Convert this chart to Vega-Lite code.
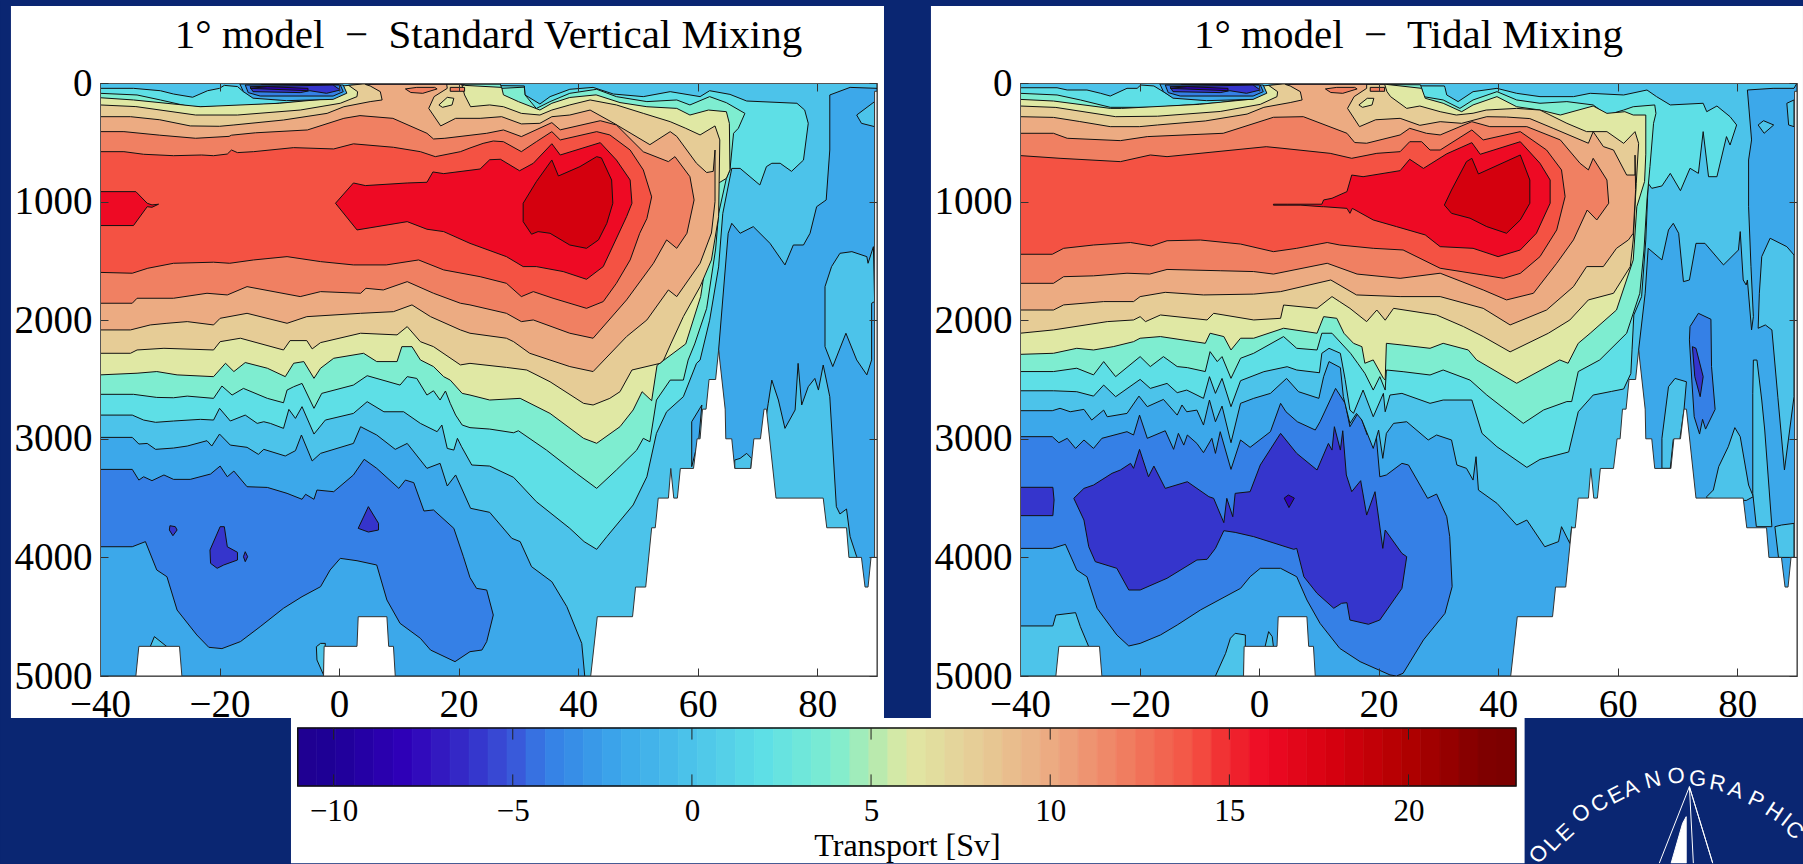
{
"$schema":"https://vega.github.io/schema/vega-lite/v6.json",
"background":"#0a2672","padding":0,
"config":{"view":{"stroke":null},"axis":{"grid":false,"title":null,"labelFont":"Liberation Serif","labelFontSize":39,"labelColor":"#000","tickColor":"#333","domainColor":"#555","tickSize":-8,"labelOverlap":false,"labelFlush":false,"format":"d"}},
"datasets":{
"frame":[{"item":"frame"}],
"ground":[
{"piece":"r","lat":42.1,"depth":5000},{"piece":"r","lat":43.2,"depth":4500},{"piece":"r","lat":49.1,"depth":4500},{"piece":"r","lat":49.6,"depth":4250},{"piece":"r","lat":51.3,"depth":4250},{"piece":"r","lat":52.3,"depth":3750},{"piece":"r","lat":52.9,"depth":3750},{"piece":"r","lat":53.4,"depth":3500},{"piece":"r","lat":55.1,"depth":3500},{"piece":"r","lat":55.5,"depth":3250},{"piece":"r","lat":56,"depth":3500},{"piece":"r","lat":56.6,"depth":3500},{"piece":"r","lat":57.1,"depth":3250},{"piece":"r","lat":59.3,"depth":3250},{"piece":"r","lat":59.9,"depth":3000},{"piece":"r","lat":60.4,"depth":3000},{"piece":"r","lat":60.8,"depth":2750},{"piece":"r","lat":61.4,"depth":2750},{"piece":"r","lat":61.9,"depth":2500},{"piece":"r","lat":63,"depth":2500},{"piece":"r","lat":63.5,"depth":2250},{"piece":"r","lat":64.6,"depth":2750},{"piece":"r","lat":64.7,"depth":3000},{"piece":"r","lat":65.7,"depth":3000},{"piece":"r","lat":66.2,"depth":3250},{"piece":"r","lat":68.9,"depth":3250},{"piece":"r","lat":69.4,"depth":3000},{"piece":"r","lat":70.5,"depth":3000},{"piece":"r","lat":71.1,"depth":2750},{"piece":"r","lat":71.5,"depth":2750},{"piece":"r","lat":73.1,"depth":3500},{"piece":"r","lat":81,"depth":3500},{"piece":"r","lat":81.6,"depth":3750},{"piece":"r","lat":84.9,"depth":3750},{"piece":"r","lat":85.3,"depth":4000},{"piece":"r","lat":87.4,"depth":4000},{"piece":"r","lat":88,"depth":4250},{"piece":"r","lat":88.5,"depth":4250},{"piece":"r","lat":89,"depth":4000},{"piece":"r","lat":90,"depth":4000},{"piece":"r","lat":90,"depth":5000},
{"piece":"s","lat":89.6,"depth":70},{"piece":"s","lat":90,"depth":70},{"piece":"s","lat":90,"depth":4000},{"piece":"s","lat":89.6,"depth":4000},
{"piece":"a","lat":-34,"depth":5000},{"piece":"a","lat":-33.5,"depth":4750},{"piece":"a","lat":-26.7,"depth":4750},{"piece":"a","lat":-26.3,"depth":5000},
{"piece":"b","lat":-2.6,"depth":5000},{"piece":"b","lat":-2.5,"depth":4750},{"piece":"b","lat":3,"depth":4750},{"piece":"b","lat":3.2,"depth":4500},{"piece":"b","lat":8,"depth":4500},{"piece":"b","lat":8.3,"depth":4750},{"piece":"b","lat":9.1,"depth":4750},{"piece":"b","lat":9.4,"depth":5000}
],
"standard":[
{"sv":-2,"lat":-40,"depth":0},{"sv":-2,"lat":90,"depth":0},{"sv":-2,"lat":90,"depth":5000},{"sv":-2,"lat":-40,"depth":5000},
{"sv":-4,"lat":-40,"depth":3258},{"sv":-4,"lat":-34.6,"depth":3258},{"sv":-4,"lat":-33.5,"depth":3348},{"sv":-4,"lat":-32.7,"depth":3320},{"sv":-4,"lat":-31.3,"depth":3353},{"sv":-4,"lat":-29.3,"depth":3305},{"sv":-4,"lat":-27.7,"depth":3342},{"sv":-4,"lat":-24.9,"depth":3342},{"sv":-4,"lat":-21.5,"depth":3297},{"sv":-4,"lat":-19.9,"depth":3230},{"sv":-4,"lat":-18.7,"depth":3320},{"sv":-4,"lat":-17.6,"depth":3272},{"sv":-4,"lat":-15.4,"depth":3404},{"sv":-4,"lat":-12,"depth":3410},{"sv":-4,"lat":-8.7,"depth":3460},{"sv":-4,"lat":-6.2,"depth":3510},{"sv":-4,"lat":-5.6,"depth":3468},{"sv":-4,"lat":-4.2,"depth":3510},{"sv":-4,"lat":-3.7,"depth":3432},{"sv":-4,"lat":-0.9,"depth":3446},{"sv":-4,"lat":2.4,"depth":3305},{"sv":-4,"lat":4.2,"depth":3173},{"sv":-4,"lat":6.3,"depth":3249},{"sv":-4,"lat":10,"depth":3418},{"sv":-4,"lat":11.1,"depth":3348},{"sv":-4,"lat":12.5,"depth":3370},{"sv":-4,"lat":14.2,"depth":3609},{"sv":-4,"lat":15.8,"depth":3600},{"sv":-4,"lat":19.2,"depth":3755},{"sv":-4,"lat":20.8,"depth":3994},{"sv":-4,"lat":21.9,"depth":4170},{"sv":-4,"lat":23,"depth":4261},{"sv":-4,"lat":24.7,"depth":4275},{"sv":-4,"lat":25.8,"depth":4486},{"sv":-4,"lat":24.7,"depth":4710},{"sv":-4,"lat":23.9,"depth":4781},{"sv":-4,"lat":21.9,"depth":4795},{"sv":-4,"lat":19.4,"depth":4879},{"sv":-4,"lat":15.3,"depth":4781},{"sv":-4,"lat":13.6,"depth":4682},{"sv":-4,"lat":10.2,"depth":4556},{"sv":-4,"lat":8,"depth":4359},{"sv":-4,"lat":6.3,"depth":4064},{"sv":-4,"lat":3,"depth":4028},{"sv":-4,"lat":0.2,"depth":4008},{"sv":-4,"lat":-1.5,"depth":4106},{"sv":-4,"lat":-3.1,"depth":4247},{"sv":-4,"lat":-6.2,"depth":4331},{"sv":-4,"lat":-9.3,"depth":4429},{"sv":-4,"lat":-13.2,"depth":4584},{"sv":-4,"lat":-16.5,"depth":4710},{"sv":-4,"lat":-19.6,"depth":4769},{"sv":-4,"lat":-21.8,"depth":4758},{"sv":-4,"lat":-23.8,"depth":4654},{"sv":-4,"lat":-27.1,"depth":4444},{"sv":-4,"lat":-28.8,"depth":4163},{"sv":-4,"lat":-30.5,"depth":4106},{"sv":-4,"lat":-32.4,"depth":3867},{"sv":-4,"lat":-34.6,"depth":3910},{"sv":-4,"lat":-40,"depth":3910},
{"sv":-6,"lat":-19.9,"depth":3741},{"sv":-6,"lat":-19.2,"depth":3741},{"sv":-6,"lat":-18.7,"depth":3910},{"sv":-6,"lat":-17,"depth":3957},{"sv":-6,"lat":-17,"depth":4022},{"sv":-6,"lat":-19.3,"depth":4064},{"sv":-6,"lat":-20.4,"depth":4092},{"sv":-6,"lat":-21.5,"depth":4050},{"sv":-6,"lat":-21.6,"depth":3938},
{"sv":-6.01,"lat":-28.3,"depth":3733},{"sv":-6.01,"lat":-27.4,"depth":3741},{"sv":-6.01,"lat":-27.1,"depth":3769},{"sv":-6.01,"lat":-27.8,"depth":3817},{"sv":-6.01,"lat":-28.4,"depth":3769},
{"sv":-6.02,"lat":4.9,"depth":3572},{"sv":-6.02,"lat":6.6,"depth":3713},{"sv":-6.02,"lat":6.6,"depth":3769},{"sv":-6.02,"lat":4.9,"depth":3786},{"sv":-6.02,"lat":3.2,"depth":3755},
{"sv":-6.03,"lat":-15.7,"depth":3952},{"sv":-6.03,"lat":-15.3,"depth":3994},{"sv":-6.03,"lat":-15.7,"depth":4036},{"sv":-6.03,"lat":-16,"depth":3994},
{"sv":0,"lat":-40,"depth":0},{"sv":0,"lat":90,"depth":0},{"sv":0,"lat":90,"depth":45},{"sv":0,"lat":85.5,"depth":37},{"sv":0,"lat":82.1,"depth":101},{"sv":0,"lat":82.1,"depth":565},{"sv":0,"lat":81.5,"depth":986},{"sv":0,"lat":79.9,"depth":1043},{"sv":0,"lat":78.8,"depth":1267},{"sv":0,"lat":77.7,"depth":1366},{"sv":0,"lat":76,"depth":1366},{"sv":0,"lat":74.6,"depth":1534},{"sv":0,"lat":72.1,"depth":1352},{"sv":0,"lat":69.3,"depth":1211},{"sv":0,"lat":67.1,"depth":1267},{"sv":0,"lat":65.7,"depth":1183},{"sv":0,"lat":65.1,"depth":1267},{"sv":0,"lat":63.5,"depth":2251},{"sv":0,"lat":63.8,"depth":3000},{"sv":0,"lat":60,"depth":4000},{"sv":0,"lat":45,"depth":5000},{"sv":0,"lat":41.1,"depth":5000},{"sv":0,"lat":40.6,"depth":4725},{"sv":0,"lat":38.1,"depth":4415},{"sv":0,"lat":35.6,"depth":4205},{"sv":0,"lat":32.2,"depth":4078},{"sv":0,"lat":30.3,"depth":3867},{"sv":0,"lat":28.9,"depth":3839},{"sv":0,"lat":25.2,"depth":3620},{"sv":0,"lat":22,"depth":3586},{"sv":0,"lat":19.5,"depth":3305},{"sv":0,"lat":18.1,"depth":3398},{"sv":0,"lat":16.9,"depth":3207},{"sv":0,"lat":14.7,"depth":3249},{"sv":0,"lat":11.4,"depth":3039},{"sv":0,"lat":9.4,"depth":3089},{"sv":0,"lat":6.3,"depth":2968},{"sv":0,"lat":3.6,"depth":2898},{"sv":0,"lat":2.4,"depth":3039},{"sv":0,"lat":-3.1,"depth":3123},{"sv":0,"lat":-4.5,"depth":3187},{"sv":0,"lat":-6.3,"depth":2968},{"sv":0,"lat":-7.3,"depth":3100},{"sv":0,"lat":-9,"depth":3145},{"sv":0,"lat":-12.6,"depth":3089},{"sv":0,"lat":-13.5,"depth":3131},{"sv":0,"lat":-15.4,"depth":3072},{"sv":0,"lat":-18.2,"depth":3053},{"sv":0,"lat":-20,"depth":2960},{"sv":0,"lat":-21.3,"depth":3061},{"sv":0,"lat":-22.1,"depth":3016},{"sv":0,"lat":-25.4,"depth":3061},{"sv":0,"lat":-27.7,"depth":3078},{"sv":0,"lat":-30.7,"depth":3089},{"sv":0,"lat":-32.1,"depth":3039},{"sv":0,"lat":-33.5,"depth":3044},{"sv":0,"lat":-34.6,"depth":2988},{"sv":0,"lat":-40,"depth":2988},
{"sv":-2.01,"lat":59,"depth":2856},{"sv":-2.01,"lat":60.7,"depth":2715},{"sv":-2.01,"lat":60.2,"depth":2996},{"sv":-2.01,"lat":59,"depth":3235},
{"sv":0.01,"lat":71.5,"depth":2800},{"sv":0.01,"lat":71.8,"depth":2701},{"sv":0.01,"lat":72.4,"depth":2505},{"sv":0.01,"lat":73.5,"depth":2673},{"sv":0.01,"lat":74.6,"depth":2912},{"sv":0.01,"lat":76.3,"depth":2757},{"sv":0.01,"lat":76.8,"depth":2364},{"sv":0.01,"lat":77.4,"depth":2715},{"sv":0.01,"lat":78.5,"depth":2561},{"sv":0.01,"lat":79.6,"depth":2491},{"sv":0.01,"lat":80.2,"depth":2589},{"sv":0.01,"lat":81,"depth":2378},{"sv":0.01,"lat":82.1,"depth":2645},{"sv":0.01,"lat":83.2,"depth":3572},{"sv":0.01,"lat":83.8,"depth":3634},{"sv":0.01,"lat":84.9,"depth":3592},{"sv":0.01,"lat":85.5,"depth":3825},{"sv":0.01,"lat":86.6,"depth":3994},{"sv":0.01,"lat":85,"depth":4100},{"sv":0.01,"lat":72,"depth":4100},
{"sv":0.02,"lat":66.2,"depth":3260},{"sv":0.02,"lat":66.2,"depth":3179},{"sv":0.02,"lat":67.1,"depth":3165},{"sv":0.02,"lat":68.2,"depth":3123},{"sv":0.02,"lat":69,"depth":3165},{"sv":0.02,"lat":68.9,"depth":3260},
{"sv":0.03,"lat":89.4,"depth":1380},{"sv":0.03,"lat":88.5,"depth":1520},{"sv":0.03,"lat":88.3,"depth":1464},{"sv":0.03,"lat":85.8,"depth":1422},{"sv":0.03,"lat":83.8,"depth":1436},{"sv":0.03,"lat":82.4,"depth":1548},{"sv":0.03,"lat":81.3,"depth":1717},{"sv":0.03,"lat":81.3,"depth":2223},{"sv":0.03,"lat":82.6,"depth":2391},{"sv":0.03,"lat":84.8,"depth":2110},{"sv":0.03,"lat":86.6,"depth":2335},{"sv":0.03,"lat":88.3,"depth":2461},{"sv":0.03,"lat":89.1,"depth":2335},{"sv":0.03,"lat":89.1,"depth":1857},{"sv":0.03,"lat":89.6,"depth":1843},
{"sv":0.04,"lat":89.6,"depth":157},{"sv":0.04,"lat":86.6,"depth":270},{"sv":0.04,"lat":87.4,"depth":340},{"sv":0.04,"lat":89.6,"depth":368},
{"sv":0.05,"lat":-31.6,"depth":4753},{"sv":0.05,"lat":-30.9,"depth":4668},{"sv":0.05,"lat":-28.8,"depth":4753},
{"sv":0.06,"lat":-3.8,"depth":4753},{"sv":0.06,"lat":-3.1,"depth":4725},{"sv":0.06,"lat":-2.3,"depth":4725},{"sv":0.06,"lat":-2.6,"depth":4991},{"sv":0.06,"lat":-3.7,"depth":4865},
{"sv":2,"lat":-40,"depth":45},{"sv":2,"lat":-34.4,"depth":45},{"sv":2,"lat":-29.9,"depth":65},{"sv":2,"lat":-27.7,"depth":93},{"sv":2,"lat":-24.5,"depth":120},{"sv":2,"lat":-22,"depth":65},{"sv":2,"lat":-20,"depth":45},{"sv":2,"lat":-19.2,"depth":20},{"sv":2,"lat":-17,"depth":30},{"sv":2,"lat":-16,"depth":73},{"sv":2,"lat":-14,"depth":115},{"sv":2,"lat":-9,"depth":129},{"sv":2,"lat":-3.5,"depth":110},{"sv":2,"lat":0.3,"depth":87},{"sv":2,"lat":1.7,"depth":37},{"sv":2,"lat":4,"depth":15},{"sv":2,"lat":7,"depth":10},{"sv":2,"lat":31,"depth":25},{"sv":2,"lat":31.1,"depth":100},{"sv":2,"lat":33.6,"depth":177},{"sv":2,"lat":35.3,"depth":115},{"sv":2,"lat":38.6,"depth":53},{"sv":2,"lat":42.5,"depth":37},{"sv":2,"lat":45.9,"depth":93},{"sv":2,"lat":50.9,"depth":115},{"sv":2,"lat":55.4,"depth":73},{"sv":2,"lat":60.4,"depth":115},{"sv":2,"lat":62,"depth":65},{"sv":2,"lat":65.4,"depth":96},{"sv":2,"lat":68.2,"depth":152},{"sv":2,"lat":76.6,"depth":171},{"sv":2,"lat":77.9,"depth":228},{"sv":2,"lat":78.5,"depth":340},{"sv":2,"lat":77.7,"depth":650},{"sv":2,"lat":75.7,"depth":745},{"sv":2,"lat":73.8,"depth":677},{"sv":2,"lat":72.4,"depth":677},{"sv":2,"lat":71.5,"depth":705},{"sv":2,"lat":70.4,"depth":860},{"sv":2,"lat":67.1,"depth":720},{"sv":2,"lat":65.7,"depth":720},{"sv":2,"lat":64.2,"depth":1100},{"sv":2,"lat":63.5,"depth":1550},{"sv":2,"lat":62,"depth":2000},{"sv":2,"lat":60.4,"depth":2336},{"sv":2,"lat":59.8,"depth":2364},{"sv":2,"lat":57.6,"depth":2645},{"sv":2,"lat":54.8,"depth":2772},{"sv":2,"lat":53.1,"depth":2954},{"sv":2,"lat":51.5,"depth":3320},{"sv":2,"lat":49.2,"depth":3558},{"sv":2,"lat":44.8,"depth":3825},{"sv":2,"lat":43.1,"depth":3932},{"sv":2,"lat":41,"depth":3867},{"sv":2,"lat":38.6,"depth":3755},{"sv":2,"lat":33,"depth":3530},{"sv":2,"lat":29.2,"depth":3325},{"sv":2,"lat":25.2,"depth":3230},{"sv":2,"lat":22.2,"depth":3221},{"sv":2,"lat":20.5,"depth":3067},{"sv":2,"lat":19.8,"depth":2996},{"sv":2,"lat":19.2,"depth":3095},{"sv":2,"lat":18.1,"depth":3081},{"sv":2,"lat":17.2,"depth":2884},{"sv":2,"lat":16.4,"depth":2940},{"sv":2,"lat":13.6,"depth":2870},{"sv":2,"lat":10.8,"depth":2772},{"sv":2,"lat":7.5,"depth":2772},{"sv":2,"lat":4.7,"depth":2687},{"sv":2,"lat":2.4,"depth":2786},{"sv":2,"lat":-2.3,"depth":2842},{"sv":2,"lat":-4.2,"depth":2960},{"sv":2,"lat":-6.2,"depth":2729},{"sv":2,"lat":-7.3,"depth":2828},{"sv":2,"lat":-8.4,"depth":2752},{"sv":2,"lat":-9.3,"depth":2912},{"sv":2,"lat":-11.5,"depth":2870},{"sv":2,"lat":-12.6,"depth":2856},{"sv":2,"lat":-13.7,"depth":2870},{"sv":2,"lat":-15.7,"depth":2800},{"sv":2,"lat":-18.2,"depth":2850},{"sv":2,"lat":-20,"depth":2743},{"sv":2,"lat":-21,"depth":2842},{"sv":2,"lat":-23.2,"depth":2836},{"sv":2,"lat":-27.7,"depth":2850},{"sv":2,"lat":-30.7,"depth":2861},{"sv":2,"lat":-32.7,"depth":2842},{"sv":2,"lat":-34.6,"depth":2800},{"sv":2,"lat":-40,"depth":2800},
{"sv":4,"lat":-40,"depth":87},{"sv":4,"lat":-33.8,"depth":101},{"sv":4,"lat":-29.9,"depth":143},{"sv":4,"lat":-24.9,"depth":200},{"sv":4,"lat":-17.6,"depth":200},{"sv":4,"lat":-6.5,"depth":157},{"sv":4,"lat":0.2,"depth":115},{"sv":4,"lat":1.9,"depth":53},{"sv":4,"lat":3.6,"depth":37},{"sv":4,"lat":7,"depth":10},{"sv":4,"lat":27,"depth":10},{"sv":4,"lat":27.2,"depth":45},{"sv":4,"lat":31,"depth":35},{"sv":4,"lat":31.1,"depth":100},{"sv":4,"lat":33,"depth":215},{"sv":4,"lat":35.3,"depth":157},{"sv":4,"lat":38.6,"depth":87},{"sv":4,"lat":43.1,"depth":53},{"sv":4,"lat":46.4,"depth":115},{"sv":4,"lat":51.5,"depth":157},{"sv":4,"lat":56.5,"depth":143},{"sv":4,"lat":58.7,"depth":185},{"sv":4,"lat":62,"depth":115},{"sv":4,"lat":64.8,"depth":166},{"sv":4,"lat":67.9,"depth":256},{"sv":4,"lat":66.8,"depth":382},{"sv":4,"lat":66,"depth":424},{"sv":4,"lat":65.4,"depth":733},{"sv":4,"lat":64.8,"depth":804},{"sv":4,"lat":63.5,"depth":1100},{"sv":4,"lat":63,"depth":1400},{"sv":4,"lat":61.5,"depth":1900},{"sv":4,"lat":59.5,"depth":2200},{"sv":4,"lat":58.4,"depth":2336},{"sv":4,"lat":57.6,"depth":2505},{"sv":4,"lat":55.4,"depth":2505},{"sv":4,"lat":53.1,"depth":2673},{"sv":4,"lat":52,"depth":3025},{"sv":4,"lat":50.9,"depth":2996},{"sv":4,"lat":49.8,"depth":3095},{"sv":4,"lat":46.4,"depth":3263},{"sv":4,"lat":43.1,"depth":3418},{"sv":4,"lat":39.7,"depth":3291},{"sv":4,"lat":34.7,"depth":3095},{"sv":4,"lat":30,"depth":2932},{"sv":4,"lat":29.2,"depth":2949},{"sv":4,"lat":25.2,"depth":2918},{"sv":4,"lat":21.9,"depth":2906},{"sv":4,"lat":20.6,"depth":2884},{"sv":4,"lat":19.5,"depth":2800},{"sv":4,"lat":18.6,"depth":2701},{"sv":4,"lat":17.8,"depth":2597},{"sv":4,"lat":16.9,"depth":2673},{"sv":4,"lat":15.8,"depth":2595},{"sv":4,"lat":14.7,"depth":2631},{"sv":4,"lat":13,"depth":2491},{"sv":4,"lat":11.4,"depth":2476},{"sv":4,"lat":10.2,"depth":2547},{"sv":4,"lat":4.7,"depth":2468},{"sv":4,"lat":2.4,"depth":2547},{"sv":4,"lat":-2.9,"depth":2617},{"sv":4,"lat":-4.2,"depth":2743},{"sv":4,"lat":-6.2,"depth":2533},{"sv":4,"lat":-7.6,"depth":2561},{"sv":4,"lat":-8.7,"depth":2589},{"sv":4,"lat":-9.3,"depth":2696},{"sv":4,"lat":-12,"depth":2659},{"sv":4,"lat":-16,"depth":2575},{"sv":4,"lat":-17.9,"depth":2631},{"sv":4,"lat":-19.6,"depth":2555},{"sv":4,"lat":-21,"depth":2659},{"sv":4,"lat":-25.4,"depth":2640},{"sv":4,"lat":-27.7,"depth":2654},{"sv":4,"lat":-30.5,"depth":2651},{"sv":4,"lat":-34.4,"depth":2625},{"sv":4,"lat":-40,"depth":2625},
{"sv":6,"lat":-40,"depth":124},{"sv":6,"lat":-34.4,"depth":143},{"sv":6,"lat":-23.2,"depth":200},{"sv":6,"lat":-10,"depth":171},{"sv":6,"lat":-1,"depth":129},{"sv":6,"lat":1,"depth":73},{"sv":6,"lat":0.6,"depth":25},{"sv":6,"lat":4,"depth":8},{"sv":6,"lat":21,"depth":20},{"sv":6,"lat":27.2,"depth":37},{"sv":6,"lat":27.5,"depth":100},{"sv":6,"lat":30,"depth":157},{"sv":6,"lat":33.6,"depth":228},{"sv":6,"lat":35.6,"depth":171},{"sv":6,"lat":38.6,"depth":122},{"sv":6,"lat":43,"depth":100},{"sv":6,"lat":47,"depth":165},{"sv":6,"lat":51.5,"depth":200},{"sv":6,"lat":56.5,"depth":214},{"sv":6,"lat":58.7,"depth":270},{"sv":6,"lat":61.8,"depth":228},{"sv":6,"lat":64.8,"depth":242},{"sv":6,"lat":65.3,"depth":340},{"sv":6,"lat":65.4,"depth":733},{"sv":6,"lat":64.8,"depth":804},{"sv":6,"lat":63.3,"depth":850},{"sv":6,"lat":62,"depth":1300},{"sv":6,"lat":60.5,"depth":1800},{"sv":6,"lat":58,"depth":2200},{"sv":6,"lat":53.2,"depth":2380},{"sv":6,"lat":52.3,"depth":2679},{"sv":6,"lat":50.7,"depth":2603},{"sv":6,"lat":49.2,"depth":2757},{"sv":6,"lat":47,"depth":2898},{"sv":6,"lat":43.1,"depth":3038},{"sv":6,"lat":40.9,"depth":2996},{"sv":6,"lat":35.3,"depth":2786},{"sv":6,"lat":30.3,"depth":2659},{"sv":6,"lat":25.2,"depth":2673},{"sv":6,"lat":21.9,"depth":2631},{"sv":6,"lat":20.6,"depth":2617},{"sv":6,"lat":18.6,"depth":2505},{"sv":6,"lat":17.5,"depth":2476},{"sv":6,"lat":15.8,"depth":2391},{"sv":6,"lat":13.6,"depth":2335},{"sv":6,"lat":12.2,"depth":2223},{"sv":6,"lat":10.5,"depth":2223},{"sv":6,"lat":9.7,"depth":2349},{"sv":6,"lat":6.3,"depth":2349},{"sv":6,"lat":4.1,"depth":2279},{"sv":6,"lat":-0.9,"depth":2321},{"sv":6,"lat":-3.1,"depth":2405},{"sv":6,"lat":-4.2,"depth":2490},{"sv":6,"lat":-5.9,"depth":2349},{"sv":6,"lat":-7.6,"depth":2363},{"sv":6,"lat":-9,"depth":2476},{"sv":6,"lat":-12,"depth":2405},{"sv":6,"lat":-15.7,"depth":2357},{"sv":6,"lat":-17.6,"depth":2433},{"sv":6,"lat":-19,"depth":2363},{"sv":6,"lat":-21,"depth":2476},{"sv":6,"lat":-27.1,"depth":2461},{"sv":6,"lat":-30.5,"depth":2433},{"sv":6,"lat":-33.8,"depth":2447},{"sv":6,"lat":-40,"depth":2461},
{"sv":8,"lat":-40,"depth":185},{"sv":8,"lat":-34,"depth":199},{"sv":8,"lat":-24,"depth":270},{"sv":8,"lat":-17,"depth":270},{"sv":8,"lat":-6.5,"depth":228},{"sv":8,"lat":0.2,"depth":171},{"sv":8,"lat":3,"depth":115},{"sv":8,"lat":3.1,"depth":73},{"sv":8,"lat":1.6,"depth":20},{"sv":8,"lat":4,"depth":8},{"sv":8,"lat":20.5,"depth":8},{"sv":8,"lat":21,"depth":101},{"sv":8,"lat":22,"depth":200},{"sv":8,"lat":25.2,"depth":185},{"sv":8,"lat":27.5,"depth":200},{"sv":8,"lat":30.5,"depth":256},{"sv":8,"lat":33.6,"depth":270},{"sv":8,"lat":35.6,"depth":228},{"sv":8,"lat":38.6,"depth":185},{"sv":8,"lat":42,"depth":143},{"sv":8,"lat":46.4,"depth":185},{"sv":8,"lat":50.9,"depth":256},{"sv":8,"lat":55.4,"depth":326},{"sv":8,"lat":58,"depth":382},{"sv":8,"lat":60.4,"depth":438},{"sv":8,"lat":62.9,"depth":362},{"sv":8,"lat":63.7,"depth":480},{"sv":8,"lat":63.5,"depth":1127},{"sv":8,"lat":62.3,"depth":1492},{"sv":8,"lat":60.4,"depth":1717},{"sv":8,"lat":57.6,"depth":1970},{"sv":8,"lat":55.5,"depth":2200},{"sv":8,"lat":54.3,"depth":2336},{"sv":8,"lat":53.7,"depth":2364},{"sv":8,"lat":49,"depth":2420},{"sv":8,"lat":47,"depth":2603},{"sv":8,"lat":45.3,"depth":2659},{"sv":8,"lat":42.5,"depth":2715},{"sv":8,"lat":40.9,"depth":2701},{"sv":8,"lat":35.3,"depth":2519},{"sv":8,"lat":31.4,"depth":2420},{"sv":8,"lat":28,"depth":2398},{"sv":8,"lat":21.9,"depth":2364},{"sv":8,"lat":20.3,"depth":2377},{"sv":8,"lat":15.8,"depth":2223},{"sv":8,"lat":13.6,"depth":2181},{"sv":8,"lat":11.4,"depth":2054},{"sv":8,"lat":9.7,"depth":2124},{"sv":8,"lat":3.6,"depth":2110},{"sv":8,"lat":-3.1,"depth":2189},{"sv":8,"lat":-4.5,"depth":2242},{"sv":8,"lat":-5.4,"depth":2172},{"sv":8,"lat":-8.2,"depth":2172},{"sv":8,"lat":-9.3,"depth":2251},{"sv":8,"lat":-16.5,"depth":2152},{"sv":8,"lat":-19.9,"depth":2181},{"sv":8,"lat":-21,"depth":2251},{"sv":8,"lat":-29.3,"depth":2237},{"sv":8,"lat":-33.8,"depth":2251},{"sv":8,"lat":-34.9,"depth":2279},{"sv":8,"lat":-40,"depth":2279},
{"sv":6.01,"lat":16.7,"depth":185},{"sv":6.01,"lat":18.1,"depth":121},{"sv":6.01,"lat":19.2,"depth":129},{"sv":6.01,"lat":18.9,"depth":185},{"sv":6.01,"lat":17.3,"depth":205},
{"sv":10,"lat":-40,"depth":284},{"sv":10,"lat":-34.9,"depth":284},{"sv":10,"lat":-30,"depth":310},{"sv":10,"lat":-24.9,"depth":362},{"sv":10,"lat":-20,"depth":365},{"sv":10,"lat":-17.6,"depth":354},{"sv":10,"lat":-9.3,"depth":312},{"sv":10,"lat":-2,"depth":256},{"sv":10,"lat":0.8,"depth":200},{"sv":10,"lat":5.2,"depth":157},{"sv":10,"lat":7.2,"depth":143},{"sv":10,"lat":6.9,"depth":73},{"sv":10,"lat":5.2,"depth":25},{"sv":10,"lat":4.4,"depth":12},{"sv":10,"lat":7,"depth":8},{"sv":10,"lat":18,"depth":8},{"sv":10,"lat":18.1,"depth":45},{"sv":10,"lat":15.9,"depth":115},{"sv":10,"lat":15,"depth":214},{"sv":10,"lat":17,"depth":362},{"sv":10,"lat":19.5,"depth":298},{"sv":10,"lat":23.6,"depth":298},{"sv":10,"lat":27.2,"depth":284},{"sv":10,"lat":30.5,"depth":345},{"sv":10,"lat":33.6,"depth":340},{"sv":10,"lat":35.6,"depth":284},{"sv":10,"lat":38.6,"depth":270},{"sv":10,"lat":42,"depth":228},{"sv":10,"lat":46,"depth":340},{"sv":10,"lat":49,"depth":430},{"sv":10,"lat":52,"depth":520},{"sv":10,"lat":55.4,"depth":410},{"sv":10,"lat":56.5,"depth":450},{"sv":10,"lat":59.8,"depth":677},{"sv":10,"lat":61.5,"depth":755},{"sv":10,"lat":62.6,"depth":745},{"sv":10,"lat":62.9,"depth":565},{"sv":10,"lat":62.9,"depth":1000},{"sv":10,"lat":62.3,"depth":1265},{"sv":10,"lat":60.4,"depth":1520},{"sv":10,"lat":56.5,"depth":1801},{"sv":10,"lat":55.1,"depth":1745},{"sv":10,"lat":51.5,"depth":1998},{"sv":10,"lat":48.1,"depth":2138},{"sv":10,"lat":42.5,"depth":2433},{"sv":10,"lat":38.6,"depth":2391},{"sv":10,"lat":31.9,"depth":2279},{"sv":10,"lat":29.2,"depth":2181},{"sv":10,"lat":28,"depth":2152},{"sv":10,"lat":21.9,"depth":2110},{"sv":10,"lat":20.3,"depth":2082},{"sv":10,"lat":15.3,"depth":1970},{"sv":10,"lat":12.2,"depth":1871},{"sv":10,"lat":9.1,"depth":1928},{"sv":10,"lat":3.6,"depth":1942},{"sv":10,"lat":-5.4,"depth":1970},{"sv":10,"lat":-8.7,"depth":2026},{"sv":10,"lat":-15.4,"depth":1942},{"sv":10,"lat":-19.9,"depth":1984},{"sv":10,"lat":-21,"depth":2040},{"sv":10,"lat":-25.4,"depth":2012},{"sv":10,"lat":-28.8,"depth":2026},{"sv":10,"lat":-31.6,"depth":2040},{"sv":10,"lat":-34.9,"depth":2082},{"sv":10,"lat":-40,"depth":2082},
{"sv":12,"lat":-40,"depth":410},{"sv":12,"lat":-36,"depth":410},{"sv":12,"lat":-30,"depth":440},{"sv":12,"lat":-24,"depth":466},{"sv":12,"lat":-18.4,"depth":450},{"sv":12,"lat":-18,"depth":440},{"sv":12,"lat":-14,"depth":420},{"sv":12,"lat":-5.3,"depth":396},{"sv":12,"lat":0.8,"depth":298},{"sv":12,"lat":3.5,"depth":275},{"sv":12,"lat":9,"depth":298},{"sv":12,"lat":14.7,"depth":424},{"sv":12,"lat":15.8,"depth":472},{"sv":12,"lat":17.7,"depth":466},{"sv":12,"lat":24.7,"depth":424},{"sv":12,"lat":27.5,"depth":396},{"sv":12,"lat":30.5,"depth":452},{"sv":12,"lat":35.6,"depth":334},{"sv":12,"lat":37,"depth":395},{"sv":12,"lat":43.7,"depth":318},{"sv":12,"lat":46.4,"depth":354},{"sv":12,"lat":50.9,"depth":580},{"sv":12,"lat":55.1,"depth":663},{"sv":12,"lat":56.2,"depth":621},{"sv":12,"lat":58.7,"depth":790},{"sv":12,"lat":59.4,"depth":986},{"sv":12,"lat":58.2,"depth":1267},{"sv":12,"lat":56.5,"depth":1394},{"sv":12,"lat":54.8,"depth":1323},{"sv":12,"lat":52.6,"depth":1520},{"sv":12,"lat":48.1,"depth":1829},{"sv":12,"lat":42.5,"depth":2152},{"sv":12,"lat":38.6,"depth":2110},{"sv":12,"lat":32.5,"depth":1998},{"sv":12,"lat":30.5,"depth":2012},{"sv":12,"lat":28,"depth":1942},{"sv":12,"lat":21.9,"depth":1871},{"sv":12,"lat":20.3,"depth":1857},{"sv":12,"lat":15.8,"depth":1773},{"sv":12,"lat":11.4,"depth":1675},{"sv":12,"lat":7.4,"depth":1745},{"sv":12,"lat":4.5,"depth":1731},{"sv":12,"lat":3.6,"depth":1773},{"sv":12,"lat":-3.1,"depth":1759},{"sv":12,"lat":-6.5,"depth":1801},{"sv":12,"lat":-15.4,"depth":1717},{"sv":12,"lat":-18.7,"depth":1787},{"sv":12,"lat":-22.1,"depth":1773},{"sv":12,"lat":-27.7,"depth":1815},{"sv":12,"lat":-33.8,"depth":1815},{"sv":12,"lat":-34.6,"depth":1857},{"sv":12,"lat":-40,"depth":1857},
{"sv":14,"lat":-40,"depth":579},{"sv":14,"lat":-36,"depth":579},{"sv":14,"lat":-32.7,"depth":601},{"sv":14,"lat":-27.7,"depth":613},{"sv":14,"lat":-23,"depth":607},{"sv":14,"lat":-21,"depth":613},{"sv":14,"lat":-18.7,"depth":599},{"sv":14,"lat":-18,"depth":565},{"sv":14,"lat":-17,"depth":587},{"sv":14,"lat":-14.3,"depth":579},{"sv":14,"lat":-7.6,"depth":545},{"sv":14,"lat":-0.9,"depth":556},{"sv":14,"lat":2.4,"depth":513},{"sv":14,"lat":9.1,"depth":542},{"sv":14,"lat":13.6,"depth":579},{"sv":14,"lat":16.1,"depth":621},{"sv":14,"lat":20.3,"depth":579},{"sv":14,"lat":21.9,"depth":548},{"sv":14,"lat":24.1,"depth":509},{"sv":14,"lat":25.8,"depth":489},{"sv":14,"lat":27.5,"depth":495},{"sv":14,"lat":30.5,"depth":579},{"sv":14,"lat":33,"depth":495},{"sv":14,"lat":35.6,"depth":410},{"sv":14,"lat":37,"depth":480},{"sv":14,"lat":43.1,"depth":410},{"sv":14,"lat":45.3,"depth":438},{"sv":14,"lat":48.7,"depth":565},{"sv":14,"lat":50.9,"depth":733},{"sv":14,"lat":52.3,"depth":960},{"sv":14,"lat":51.5,"depth":1143},{"sv":14,"lat":50.3,"depth":1267},{"sv":14,"lat":48.7,"depth":1492},{"sv":14,"lat":46.4,"depth":1689},{"sv":14,"lat":44.2,"depth":1843},{"sv":14,"lat":41.4,"depth":1900},{"sv":14,"lat":35.8,"depth":1815},{"sv":14,"lat":32.5,"depth":1759},{"sv":14,"lat":30.5,"depth":1801},{"sv":14,"lat":28,"depth":1689},{"sv":14,"lat":23.6,"depth":1633},{"sv":14,"lat":17.5,"depth":1576},{"sv":14,"lat":13.3,"depth":1492},{"sv":14,"lat":7.9,"depth":1534},{"sv":14,"lat":2.4,"depth":1534},{"sv":14,"lat":-3.1,"depth":1506},{"sv":14,"lat":-8.7,"depth":1464},{"sv":14,"lat":-14.3,"depth":1492},{"sv":14,"lat":-18.3,"depth":1520},{"sv":14,"lat":-21,"depth":1511},{"sv":14,"lat":-27.7,"depth":1520},{"sv":14,"lat":-32,"depth":1562},{"sv":14,"lat":-34.6,"depth":1604},{"sv":14,"lat":-40,"depth":1597},
{"sv":16.01,"lat":-40,"depth":916},{"sv":16.01,"lat":-34,"depth":916},{"sv":16.01,"lat":-32.1,"depth":1014},{"sv":16.01,"lat":-31.3,"depth":1028},{"sv":16.01,"lat":-30.2,"depth":1022},{"sv":16.01,"lat":-31.3,"depth":1048},{"sv":16.01,"lat":-32.1,"depth":1043},{"sv":16.01,"lat":-34.4,"depth":1202},{"sv":16.01,"lat":-40,"depth":1202},
{"sv":16,"lat":-0.6,"depth":1014},{"sv":16,"lat":2.4,"depth":843},{"sv":16,"lat":4.4,"depth":865},{"sv":16,"lat":11.4,"depth":843},{"sv":16,"lat":14.7,"depth":837},{"sv":16,"lat":15.7,"depth":750},{"sv":16,"lat":17.5,"depth":764},{"sv":16,"lat":23.6,"depth":725},{"sv":16,"lat":25.2,"depth":647},{"sv":16,"lat":27,"depth":643},{"sv":16,"lat":30.2,"depth":740},{"sv":16,"lat":32.5,"depth":677},{"sv":16,"lat":35.6,"depth":512},{"sv":16,"lat":37,"depth":607},{"sv":16,"lat":43.7,"depth":503},{"sv":16,"lat":46.4,"depth":649},{"sv":16,"lat":48.7,"depth":818},{"sv":16,"lat":49,"depth":1014},{"sv":16,"lat":48.1,"depth":1127},{"sv":16,"lat":44.2,"depth":1548},{"sv":16,"lat":41.4,"depth":1655},{"sv":16,"lat":37.5,"depth":1590},{"sv":16,"lat":33,"depth":1548},{"sv":16,"lat":30.8,"depth":1548},{"sv":16,"lat":28,"depth":1464},{"sv":16,"lat":21.9,"depth":1352},{"sv":16,"lat":17.5,"depth":1253},{"sv":16,"lat":14.7,"depth":1233},{"sv":16,"lat":11.4,"depth":1169},{"sv":16,"lat":3,"depth":1239},
{"sv":18,"lat":35.6,"depth":649},{"sv":18,"lat":36.7,"depth":784},{"sv":18,"lat":40.3,"depth":705},{"sv":18,"lat":43.1,"depth":621},{"sv":18,"lat":43.9,"depth":632},{"sv":18,"lat":45.6,"depth":818},{"sv":18,"lat":45.8,"depth":1014},{"sv":18,"lat":44.8,"depth":1183},{"sv":18,"lat":43.4,"depth":1323},{"sv":18,"lat":41.4,"depth":1394},{"sv":18,"lat":38.6,"depth":1366},{"sv":18,"lat":35.3,"depth":1267},{"sv":18,"lat":33.3,"depth":1253},{"sv":18,"lat":32.2,"depth":1275},{"sv":18,"lat":30.8,"depth":1169},{"sv":18,"lat":30.8,"depth":1014},{"sv":18,"lat":33,"depth":832},
{"sv":12.01,"lat":11.1,"depth":50},{"sv":12.01,"lat":13,"depth":37},{"sv":12.01,"lat":16,"depth":37},{"sv":12.01,"lat":16.4,"depth":50},{"sv":12.01,"lat":14,"depth":87},{"sv":12.01,"lat":12,"depth":80},
{"sv":12.02,"lat":18.6,"depth":37},{"sv":12.02,"lat":21,"depth":37},{"sv":12.02,"lat":21,"depth":70},{"sv":12.02,"lat":18.6,"depth":70},
{"sv":-2.02,"lat":-16.6,"depth":8},{"sv":-2.02,"lat":-16,"depth":73},{"sv":-2.02,"lat":-14.4,"depth":128},{"sv":-2.02,"lat":-8.8,"depth":149},{"sv":-2.02,"lat":-1,"depth":138},{"sv":-2.02,"lat":1.3,"depth":86},{"sv":-2.02,"lat":0.7,"depth":17},
{"sv":-4.01,"lat":-15.7,"depth":17},{"sv":-4.01,"lat":-15.2,"depth":81},{"sv":-4.01,"lat":-13.2,"depth":110},{"sv":-4.01,"lat":-1,"depth":110},{"sv":-4.01,"lat":0.7,"depth":73},{"sv":-4.01,"lat":0.2,"depth":17},
{"sv":-6.05,"lat":-14.9,"depth":31},{"sv":-6.05,"lat":-14.4,"depth":73},{"sv":-6.05,"lat":-6.5,"depth":81},{"sv":-6.05,"lat":-4.9,"depth":65},{"sv":-6.05,"lat":-2.1,"depth":87},{"sv":-6.05,"lat":0.2,"depth":59},{"sv":-6.05,"lat":-1,"depth":17},
{"sv":-8,"lat":-14.9,"depth":45},{"sv":-8,"lat":-5.2,"depth":65},{"sv":-8,"lat":-5.2,"depth":45},{"sv":-8,"lat":-12,"depth":31},
{"sv":-11,"lat":-13,"depth":0},{"sv":-11,"lat":0,"depth":0},{"sv":-11,"lat":0,"depth":12},{"sv":-11,"lat":-13,"depth":12},
{"sv":-11.01,"lat":5,"depth":0},{"sv":-11.01,"lat":21,"depth":0},{"sv":-11.01,"lat":21,"depth":10},{"sv":-11.01,"lat":5,"depth":10}
],
"tidal":[
{"sv":-2,"lat":-40,"depth":0},{"sv":-2,"lat":90,"depth":0},{"sv":-2,"lat":90,"depth":5000},{"sv":-2,"lat":-40,"depth":5000},
{"sv":-4,"lat":-40,"depth":2982},{"sv":-4,"lat":-34.6,"depth":2982},{"sv":-4,"lat":-33.5,"depth":3033},{"sv":-4,"lat":-32.1,"depth":2996},{"sv":-4,"lat":-30.7,"depth":3081},{"sv":-4,"lat":-29.3,"depth":3010},{"sv":-4,"lat":-27.7,"depth":3081},{"sv":-4,"lat":-26.3,"depth":2996},{"sv":-4,"lat":-22.1,"depth":2940},{"sv":-4,"lat":-21,"depth":2968},{"sv":-4,"lat":-20,"depth":2800},{"sv":-4,"lat":-18.7,"depth":2996},{"sv":-4,"lat":-15.7,"depth":2932},{"sv":-4,"lat":-14.3,"depth":3089},{"sv":-4,"lat":-13.5,"depth":2954},{"sv":-4,"lat":-12.6,"depth":3053},{"sv":-4,"lat":-12,"depth":2968},{"sv":-4,"lat":-10.4,"depth":3039},{"sv":-4,"lat":-9.3,"depth":3117},{"sv":-4,"lat":-7.9,"depth":2996},{"sv":-4,"lat":-7.3,"depth":3123},{"sv":-4,"lat":-6.5,"depth":2940},{"sv":-4,"lat":-4.7,"depth":3258},{"sv":-4,"lat":-3.1,"depth":3010},{"sv":-4,"lat":-1.5,"depth":3072},{"sv":-4,"lat":1.9,"depth":2940},{"sv":-4,"lat":3.6,"depth":2701},{"sv":-4,"lat":4.5,"depth":2772},{"sv":-4,"lat":6.4,"depth":2856},{"sv":-4,"lat":9.4,"depth":2926},{"sv":-4,"lat":10.2,"depth":2856},{"sv":-4,"lat":12.8,"depth":2575},{"sv":-4,"lat":14.4,"depth":2701},{"sv":-4,"lat":15.2,"depth":2898},{"sv":-4,"lat":16.7,"depth":2772},{"sv":-4,"lat":18.1,"depth":2968},{"sv":-4,"lat":19.3,"depth":2800},{"sv":-4,"lat":20.2,"depth":3320},{"sv":-4,"lat":21.3,"depth":3305},{"sv":-4,"lat":23.9,"depth":3207},{"sv":-4,"lat":25,"depth":3221},{"sv":-4,"lat":28.2,"depth":3502},{"sv":-4,"lat":29.7,"depth":3466},{"sv":-4,"lat":31.4,"depth":3657},{"sv":-4,"lat":31.9,"depth":3825},{"sv":-4,"lat":32.3,"depth":4247},{"sv":-4,"lat":31.1,"depth":4472},{"sv":-4,"lat":27.5,"depth":4696},{"sv":-4,"lat":24.1,"depth":4977},{"sv":-4,"lat":23,"depth":5000},{"sv":-4,"lat":21.9,"depth":4991},{"sv":-4,"lat":16.9,"depth":4879},{"sv":-4,"lat":13.5,"depth":4767},{"sv":-4,"lat":10.2,"depth":4556},{"sv":-4,"lat":8,"depth":4359},{"sv":-4,"lat":6.3,"depth":4163},{"sv":-4,"lat":3.6,"depth":4092},{"sv":-4,"lat":0.2,"depth":4092},{"sv":-4,"lat":-1.5,"depth":4163},{"sv":-4,"lat":-3.1,"depth":4261},{"sv":-4,"lat":-6.2,"depth":4345},{"sv":-4,"lat":-9.8,"depth":4443},{"sv":-4,"lat":-13.7,"depth":4570},{"sv":-4,"lat":-16.5,"depth":4654},{"sv":-4,"lat":-19.9,"depth":4725},{"sv":-4,"lat":-21.8,"depth":4747},{"sv":-4,"lat":-23.8,"depth":4654},{"sv":-4,"lat":-27.1,"depth":4429},{"sv":-4,"lat":-28.8,"depth":4163},{"sv":-4,"lat":-30.5,"depth":4106},{"sv":-4,"lat":-32.4,"depth":3890},{"sv":-4,"lat":-34.6,"depth":3924},{"sv":-4,"lat":-40,"depth":3924},
{"sv":-6,"lat":-31,"depth":3502},{"sv":-6,"lat":-29.3,"depth":3418},{"sv":-6,"lat":-27.7,"depth":3390},{"sv":-6,"lat":-24.6,"depth":3291},{"sv":-6,"lat":-23.2,"depth":3263},{"sv":-6,"lat":-21.5,"depth":3207},{"sv":-6,"lat":-21,"depth":3249},{"sv":-6,"lat":-20,"depth":3089},{"sv":-6,"lat":-18.5,"depth":3320},{"sv":-6,"lat":-17.6,"depth":3230},{"sv":-6,"lat":-15.7,"depth":3418},{"sv":-6,"lat":-12,"depth":3362},{"sv":-6,"lat":-8.4,"depth":3488},{"sv":-6,"lat":-7.6,"depth":3502},{"sv":-6,"lat":-5.9,"depth":3707},{"sv":-6,"lat":-5.4,"depth":3502},{"sv":-6,"lat":-4.4,"depth":3657},{"sv":-6,"lat":-4,"depth":3460},{"sv":-6,"lat":-1.5,"depth":3446},{"sv":-6,"lat":0.2,"depth":3221},{"sv":-6,"lat":3.6,"depth":2954},{"sv":-6,"lat":6.3,"depth":3123},{"sv":-6,"lat":9.7,"depth":3263},{"sv":-6,"lat":11.6,"depth":3039},{"sv":-6,"lat":12.2,"depth":3095},{"sv":-6,"lat":12.6,"depth":2898},{"sv":-6,"lat":13.6,"depth":3095},{"sv":-6,"lat":14,"depth":2932},{"sv":-6,"lat":14.6,"depth":3305},{"sv":-6,"lat":15.5,"depth":3446},{"sv":-6,"lat":17,"depth":3353},{"sv":-6,"lat":18,"depth":3643},{"sv":-6,"lat":19.4,"depth":3446},{"sv":-6,"lat":20.7,"depth":3924},{"sv":-6,"lat":21.1,"depth":3769},{"sv":-6,"lat":23.9,"depth":3966},{"sv":-6,"lat":24.7,"depth":3994},{"sv":-6,"lat":23.9,"depth":4261},{"sv":-6,"lat":20.2,"depth":4528},{"sv":-6,"lat":18.3,"depth":4564},{"sv":-6,"lat":15.2,"depth":4528},{"sv":-6,"lat":14.7,"depth":4382},{"sv":-6,"lat":13.8,"depth":4387},{"sv":-6,"lat":12.5,"depth":4429},{"sv":-6,"lat":9.7,"depth":4303},{"sv":-6,"lat":7.5,"depth":4163},{"sv":-6,"lat":6.3,"depth":3924},{"sv":-6,"lat":5.8,"depth":3932},{"sv":-6,"lat":-0.9,"depth":3825},{"sv":-6,"lat":-4,"depth":3789},{"sv":-6,"lat":-5.9,"depth":3775},{"sv":-6,"lat":-7.3,"depth":3924},{"sv":-6,"lat":-8.7,"depth":4016},{"sv":-6,"lat":-10.4,"depth":4022},{"sv":-6,"lat":-15.4,"depth":4176},{"sv":-6,"lat":-19.9,"depth":4275},{"sv":-6,"lat":-21.8,"depth":4275},{"sv":-6,"lat":-23.8,"depth":4092},{"sv":-6,"lat":-27.4,"depth":4036},{"sv":-6,"lat":-28.5,"depth":3910},{"sv":-6,"lat":-29.3,"depth":3685},
{"sv":-6.01,"lat":-40,"depth":3409},{"sv":-6.01,"lat":-34.5,"depth":3409},{"sv":-6.01,"lat":-34.3,"depth":3516},{"sv":-6.01,"lat":-34.5,"depth":3648},{"sv":-6.01,"lat":-40,"depth":3648},
{"sv":-8,"lat":4.9,"depth":3474},{"sv":-8,"lat":5.9,"depth":3500},{"sv":-8,"lat":5,"depth":3580},{"sv":-8,"lat":4.2,"depth":3500},
{"sv":0,"lat":-40,"depth":0},{"sv":0,"lat":90,"depth":0},{"sv":0,"lat":89.5,"depth":45},{"sv":0,"lat":86,"depth":45},{"sv":0,"lat":81.7,"depth":59},{"sv":0,"lat":82.4,"depth":480},{"sv":0,"lat":81.9,"depth":649},{"sv":0,"lat":81.9,"depth":1043},{"sv":0,"lat":82.3,"depth":1548},{"sv":0,"lat":82.7,"depth":1970},{"sv":0,"lat":82.4,"depth":2082},{"sv":0,"lat":81.7,"depth":1661},{"sv":0,"lat":81.5,"depth":1703},{"sv":0,"lat":81,"depth":1661},{"sv":0,"lat":80.5,"depth":1253},{"sv":0,"lat":80.2,"depth":1408},{"sv":0,"lat":77.7,"depth":1534},{"sv":0,"lat":74.6,"depth":1352},{"sv":0,"lat":73.1,"depth":1352},{"sv":0,"lat":72,"depth":1661},{"sv":0,"lat":71,"depth":1675},{"sv":0,"lat":70.2,"depth":1267},{"sv":0,"lat":69.3,"depth":1183},{"sv":0,"lat":68.5,"depth":1239},{"sv":0,"lat":67.4,"depth":1492},{"sv":0,"lat":65.1,"depth":1394},{"sv":0,"lat":64.6,"depth":1773},{"sv":0,"lat":63.5,"depth":2251},{"sv":0,"lat":63.8,"depth":3000},{"sv":0,"lat":60,"depth":3700},{"sv":0,"lat":54,"depth":3700},{"sv":0,"lat":52.6,"depth":3780},{"sv":0,"lat":52.3,"depth":3741},{"sv":0,"lat":52,"depth":3882},{"sv":0,"lat":50.6,"depth":3741},{"sv":0,"lat":50.1,"depth":3867},{"sv":0,"lat":47.8,"depth":3910},{"sv":0,"lat":44.8,"depth":3685},{"sv":0,"lat":43.1,"depth":3727},{"sv":0,"lat":39.8,"depth":3544},{"sv":0,"lat":36.7,"depth":3432},{"sv":0,"lat":36.3,"depth":3151},{"sv":0,"lat":35.8,"depth":3348},{"sv":0,"lat":34.7,"depth":3249},{"sv":0,"lat":33.1,"depth":3221},{"sv":0,"lat":32.2,"depth":3010},{"sv":0,"lat":29.7,"depth":2968},{"sv":0,"lat":28.3,"depth":3010},{"sv":0,"lat":24.7,"depth":2856},{"sv":0,"lat":22.5,"depth":2870},{"sv":0,"lat":21.3,"depth":2954},{"sv":0,"lat":20.7,"depth":3165},{"sv":0,"lat":20,"depth":2926},{"sv":0,"lat":19.1,"depth":3081},{"sv":0,"lat":17.2,"depth":2842},{"sv":0,"lat":16.3,"depth":2786},{"sv":0,"lat":15.2,"depth":2870},{"sv":0,"lat":14.1,"depth":2645},{"sv":0,"lat":13.6,"depth":2400},{"sv":0,"lat":11.7,"depth":2349},{"sv":0,"lat":10.8,"depth":2476},{"sv":0,"lat":10,"depth":2659},{"sv":0,"lat":6.6,"depth":2603},{"sv":0,"lat":4.6,"depth":2491},{"sv":0,"lat":1.9,"depth":2617},{"sv":0,"lat":-0.9,"depth":2659},{"sv":0,"lat":-3.1,"depth":2701},{"sv":0,"lat":-4.7,"depth":3033},{"sv":0,"lat":-6.2,"depth":2724},{"sv":0,"lat":-7.3,"depth":2856},{"sv":0,"lat":-8.3,"depth":2673},{"sv":0,"lat":-9.3,"depth":2884},{"sv":0,"lat":-10.4,"depth":2758},{"sv":0,"lat":-12.1,"depth":2772},{"sv":0,"lat":-12.9,"depth":2715},{"sv":0,"lat":-13.7,"depth":2800},{"sv":0,"lat":-16,"depth":2668},{"sv":0,"lat":-18.7,"depth":2729},{"sv":0,"lat":-20.1,"depth":2640},{"sv":0,"lat":-22.1,"depth":2786},{"sv":0,"lat":-25.4,"depth":2814},{"sv":0,"lat":-26,"depth":2758},{"sv":0,"lat":-28,"depth":2842},{"sv":0,"lat":-29.3,"depth":2752},{"sv":0,"lat":-31.6,"depth":2772},{"sv":0,"lat":-33.3,"depth":2743},{"sv":0,"lat":-34.6,"depth":2763},{"sv":0,"lat":-40,"depth":2763},
{"sv":-4.01,"lat":72,"depth":2166},{"sv":-4.01,"lat":72.1,"depth":2054},{"sv":-4.01,"lat":73.5,"depth":1942},{"sv":-4.01,"lat":75.6,"depth":1992},{"sv":-4.01,"lat":75.7,"depth":2391},{"sv":-4.01,"lat":76.3,"depth":2752},{"sv":-4.01,"lat":74.7,"depth":2918},{"sv":-4.01,"lat":74.2,"depth":2836},{"sv":-4.01,"lat":73.7,"depth":2960},{"sv":-4.01,"lat":72.8,"depth":2814},{"sv":-4.01,"lat":72.4,"depth":2505},
{"sv":-6.02,"lat":72.5,"depth":2223},{"sv":-6.02,"lat":73.1,"depth":2237},{"sv":-6.02,"lat":74.3,"depth":2476},{"sv":-6.02,"lat":73.8,"depth":2645},{"sv":-6.02,"lat":72.9,"depth":2476},
{"sv":0.01,"lat":74.9,"depth":3500},{"sv":0.01,"lat":74.9,"depth":3488},{"sv":0.01,"lat":76,"depth":3432},{"sv":0.01,"lat":76.9,"depth":3235},{"sv":0.01,"lat":78.5,"depth":3067},{"sv":0.01,"lat":79.6,"depth":2906},{"sv":0.01,"lat":80.5,"depth":2982},{"sv":0.01,"lat":81.9,"depth":3390},{"sv":0.01,"lat":82.7,"depth":3488},{"sv":0.01,"lat":81.5,"depth":3520},
{"sv":0.02,"lat":67.4,"depth":3249},{"sv":0.02,"lat":67.4,"depth":2996},{"sv":0.02,"lat":68.5,"depth":2561},{"sv":0.02,"lat":69.6,"depth":2491},{"sv":0.02,"lat":71.5,"depth":2519},{"sv":0.02,"lat":71.1,"depth":2752},{"sv":0.02,"lat":70.4,"depth":3005},{"sv":0.02,"lat":69.3,"depth":3005},{"sv":0.02,"lat":68.8,"depth":3249},
{"sv":0.03,"lat":84.1,"depth":1464},{"sv":0.03,"lat":85.5,"depth":1309},{"sv":0.03,"lat":88.3,"depth":1380},{"sv":0.03,"lat":89.5,"depth":1450},{"sv":0.03,"lat":89.5,"depth":2645},{"sv":0.03,"lat":87.9,"depth":3263},{"sv":0.03,"lat":86.8,"depth":2650},{"sv":0.03,"lat":85.8,"depth":2082},{"sv":0.03,"lat":84.7,"depth":2040},{"sv":0.03,"lat":83.5,"depth":2068},{"sv":0.03,"lat":83.7,"depth":1773},
{"sv":0.04,"lat":82.7,"depth":2336},{"sv":0.04,"lat":82.6,"depth":2620},{"sv":0.04,"lat":82.6,"depth":3460},{"sv":0.04,"lat":83.2,"depth":3741},{"sv":0.04,"lat":85.8,"depth":3741},{"sv":0.04,"lat":84.6,"depth":2926},{"sv":0.04,"lat":84.1,"depth":2673},{"sv":0.04,"lat":83.3,"depth":2336},
{"sv":0.05,"lat":86.3,"depth":3741},{"sv":0.05,"lat":87.4,"depth":3727},{"sv":0.05,"lat":89.5,"depth":3713},{"sv":0.05,"lat":89.5,"depth":4000},{"sv":0.05,"lat":86.9,"depth":4000},
{"sv":0.06,"lat":88.3,"depth":171},{"sv":0.06,"lat":89.5,"depth":143},{"sv":0.06,"lat":89.5,"depth":368},{"sv":0.06,"lat":88.6,"depth":354},
{"sv":0.07,"lat":83.5,"depth":354},{"sv":0.07,"lat":84.4,"depth":318},{"sv":0.07,"lat":86.1,"depth":354},{"sv":0.07,"lat":84.5,"depth":424},
{"sv":0.08,"lat":-40,"depth":4578},{"sv":0.08,"lat":-34.5,"depth":4578},{"sv":0.08,"lat":-34,"depth":4486},{"sv":0.08,"lat":-30.7,"depth":4466},{"sv":0.08,"lat":-29.9,"depth":4584},{"sv":0.08,"lat":-28.5,"depth":4753},{"sv":0.08,"lat":-30,"depth":5000},{"sv":0.08,"lat":-40,"depth":5000},
{"sv":0.09,"lat":-7.3,"depth":5000},{"sv":0.09,"lat":-5.6,"depth":4809},{"sv":0.09,"lat":-4.8,"depth":4682},{"sv":0.09,"lat":-4,"depth":4640},{"sv":0.09,"lat":-2.3,"depth":4654},{"sv":0.09,"lat":-2.3,"depth":4753},{"sv":0.09,"lat":-2.6,"depth":5000},
{"sv":0.1,"lat":1,"depth":4753},{"sv":0.1,"lat":1.6,"depth":4626},{"sv":0.1,"lat":2.2,"depth":4668},{"sv":0.1,"lat":2.4,"depth":4753},
{"sv":2,"lat":-40,"depth":40},{"sv":2,"lat":-33.8,"depth":40},{"sv":2,"lat":-32.1,"depth":59},{"sv":2,"lat":-28.8,"depth":59},{"sv":2,"lat":-26.5,"depth":87},{"sv":2,"lat":-24.9,"depth":110},{"sv":2,"lat":-22.1,"depth":45},{"sv":2,"lat":-20.4,"depth":45},{"sv":2,"lat":-19.8,"depth":17},{"sv":2,"lat":-17.6,"depth":25},{"sv":2,"lat":-16.5,"depth":59},{"sv":2,"lat":-14.8,"depth":110},{"sv":2,"lat":-9.3,"depth":129},{"sv":2,"lat":-3.7,"depth":115},{"sv":2,"lat":0.2,"depth":87},{"sv":2,"lat":1.6,"depth":37},{"sv":2,"lat":4,"depth":20},{"sv":2,"lat":31,"depth":25},{"sv":2,"lat":31.1,"depth":37},{"sv":2,"lat":31.4,"depth":101},{"sv":2,"lat":33.3,"depth":157},{"sv":2,"lat":35.8,"depth":73},{"sv":2,"lat":39.8,"depth":45},{"sv":2,"lat":43.1,"depth":87},{"sv":2,"lat":47,"depth":115},{"sv":2,"lat":52.6,"depth":115},{"sv":2,"lat":55.4,"depth":87},{"sv":2,"lat":61,"depth":101},{"sv":2,"lat":64.9,"depth":59},{"sv":2,"lat":66.5,"depth":115},{"sv":2,"lat":68.8,"depth":185},{"sv":2,"lat":74.3,"depth":171},{"sv":2,"lat":74.9,"depth":242},{"sv":2,"lat":76.6,"depth":194},{"sv":2,"lat":78.8,"depth":284},{"sv":2,"lat":79.9,"depth":354},{"sv":2,"lat":78.8,"depth":523},{"sv":2,"lat":78.2,"depth":452},{"sv":2,"lat":76.6,"depth":790},{"sv":2,"lat":75.2,"depth":790},{"sv":2,"lat":74.3,"depth":410},{"sv":2,"lat":73.5,"depth":762},{"sv":2,"lat":72.1,"depth":719},{"sv":2,"lat":70.5,"depth":908},{"sv":2,"lat":68.8,"depth":762},{"sv":2,"lat":67.4,"depth":868},{"sv":2,"lat":65.7,"depth":888},{"sv":2,"lat":65.1,"depth":846},{"sv":2,"lat":64.7,"depth":1323},{"sv":2,"lat":64,"depth":1801},{"sv":2,"lat":62.7,"depth":1956},{"sv":2,"lat":62.4,"depth":2250},{"sv":2,"lat":62.2,"depth":2450},{"sv":2,"lat":61,"depth":2580},{"sv":2,"lat":59,"depth":2600},{"sv":2,"lat":55.9,"depth":2631},{"sv":2,"lat":53.4,"depth":2772},{"sv":2,"lat":51.8,"depth":3111},{"sv":2,"lat":47,"depth":3174},{"sv":2,"lat":44.8,"depth":3241},{"sv":2,"lat":39.8,"depth":3067},{"sv":2,"lat":37.3,"depth":2954},{"sv":2,"lat":35.6,"depth":2673},{"sv":2,"lat":30.8,"depth":2673},{"sv":2,"lat":28.6,"depth":2701},{"sv":2,"lat":23.9,"depth":2617},{"sv":2,"lat":21.9,"depth":2631},{"sv":2,"lat":21.1,"depth":2772},{"sv":2,"lat":20.8,"depth":2617},{"sv":2,"lat":19.1,"depth":2814},{"sv":2,"lat":17.4,"depth":2589},{"sv":2,"lat":15.8,"depth":2785},{"sv":2,"lat":15.2,"depth":2757},{"sv":2,"lat":14.4,"depth":2500},{"sv":2,"lat":13.6,"depth":2279},{"sv":2,"lat":11.7,"depth":2237},{"sv":2,"lat":10.5,"depth":2279},{"sv":2,"lat":10.1,"depth":2443},{"sv":2,"lat":6.3,"depth":2420},{"sv":2,"lat":4.7,"depth":2392},{"sv":2,"lat":0.8,"depth":2434},{"sv":2,"lat":-3.1,"depth":2510},{"sv":2,"lat":-4.7,"depth":2729},{"sv":2,"lat":-6.2,"depth":2491},{"sv":2,"lat":-7.3,"depth":2617},{"sv":2,"lat":-8.3,"depth":2476},{"sv":2,"lat":-9.3,"depth":2659},{"sv":2,"lat":-12.1,"depth":2589},{"sv":2,"lat":-13.7,"depth":2611},{"sv":2,"lat":-15.4,"depth":2533},{"sv":2,"lat":-18.2,"depth":2575},{"sv":2,"lat":-19.9,"depth":2499},{"sv":2,"lat":-24,"depth":2645},{"sv":2,"lat":-26,"depth":2547},{"sv":2,"lat":-27.7,"depth":2640},{"sv":2,"lat":-30.5,"depth":2603},{"sv":2,"lat":-34.4,"depth":2595},{"sv":2,"lat":-40,"depth":2595},
{"sv":4,"lat":-40,"depth":87},{"sv":4,"lat":-33.8,"depth":101},{"sv":4,"lat":-29.9,"depth":143},{"sv":4,"lat":-24.9,"depth":205},{"sv":4,"lat":-17.6,"depth":205},{"sv":4,"lat":-6.5,"depth":165},{"sv":4,"lat":0.2,"depth":115},{"sv":4,"lat":1.9,"depth":53},{"sv":4,"lat":3.6,"depth":25},{"sv":4,"lat":7,"depth":10},{"sv":4,"lat":27,"depth":15},{"sv":4,"lat":27.2,"depth":45},{"sv":4,"lat":27.5,"depth":115},{"sv":4,"lat":30.8,"depth":143},{"sv":4,"lat":33.6,"depth":214},{"sv":4,"lat":35.8,"depth":143},{"sv":4,"lat":39.8,"depth":73},{"sv":4,"lat":43.1,"depth":143},{"sv":4,"lat":47,"depth":171},{"sv":4,"lat":51.5,"depth":157},{"sv":4,"lat":55.9,"depth":185},{"sv":4,"lat":58.2,"depth":270},{"sv":4,"lat":61,"depth":228},{"sv":4,"lat":62.6,"depth":200},{"sv":4,"lat":66.2,"depth":185},{"sv":4,"lat":66.4,"depth":256},{"sv":4,"lat":66,"depth":340},{"sv":4,"lat":65.4,"depth":705},{"sv":4,"lat":64.9,"depth":986},{"sv":4,"lat":64.4,"depth":1408},{"sv":4,"lat":63.7,"depth":1773},{"sv":4,"lat":61.5,"depth":2110},{"sv":4,"lat":57,"depth":2335},{"sv":4,"lat":53.4,"depth":2433},{"sv":4,"lat":52.3,"depth":2686},{"sv":4,"lat":51.5,"depth":2686},{"sv":4,"lat":47.6,"depth":2757},{"sv":4,"lat":44.2,"depth":2870},{"sv":4,"lat":38.1,"depth":2631},{"sv":4,"lat":35.3,"depth":2505},{"sv":4,"lat":30.8,"depth":2420},{"sv":4,"lat":28.6,"depth":2462},{"sv":4,"lat":24.1,"depth":2434},{"sv":4,"lat":21.3,"depth":2420},{"sv":4,"lat":21.1,"depth":2589},{"sv":4,"lat":20.2,"depth":2476},{"sv":4,"lat":19.1,"depth":2589},{"sv":4,"lat":17.7,"depth":2448},{"sv":4,"lat":16.5,"depth":2363},{"sv":4,"lat":15.3,"depth":2279},{"sv":4,"lat":12.2,"depth":2110},{"sv":4,"lat":10.5,"depth":2110},{"sv":4,"lat":9.7,"depth":2251},{"sv":4,"lat":6.3,"depth":2237},{"sv":4,"lat":4.1,"depth":2138},{"sv":4,"lat":-0.9,"depth":2279},{"sv":4,"lat":-3.1,"depth":2321},{"sv":4,"lat":-4.7,"depth":2490},{"sv":4,"lat":-6.2,"depth":2307},{"sv":4,"lat":-7,"depth":2349},{"sv":4,"lat":-8.2,"depth":2265},{"sv":4,"lat":-9,"depth":2433},{"sv":4,"lat":-12,"depth":2400},{"sv":4,"lat":-13.7,"depth":2391},{"sv":4,"lat":-16,"depth":2307},{"sv":4,"lat":-18.2,"depth":2391},{"sv":4,"lat":-19.9,"depth":2307},{"sv":4,"lat":-24,"depth":2476},{"sv":4,"lat":-26,"depth":2349},{"sv":4,"lat":-27.7,"depth":2461},{"sv":4,"lat":-30.5,"depth":2405},{"sv":4,"lat":-34.4,"depth":2433},{"sv":4,"lat":-40,"depth":2433},
{"sv":6,"lat":-40,"depth":138},{"sv":6,"lat":-34.4,"depth":152},{"sv":6,"lat":-24.9,"depth":214},{"sv":6,"lat":-23,"depth":214},{"sv":6,"lat":-10,"depth":180},{"sv":6,"lat":-1,"depth":135},{"sv":6,"lat":1,"depth":73},{"sv":6,"lat":0.6,"depth":25},{"sv":6,"lat":4,"depth":8},{"sv":6,"lat":21,"depth":10},{"sv":6,"lat":27.2,"depth":45},{"sv":6,"lat":27.8,"depth":129},{"sv":6,"lat":30.8,"depth":171},{"sv":6,"lat":33.9,"depth":242},{"sv":6,"lat":35.8,"depth":185},{"sv":6,"lat":39.8,"depth":115},{"sv":6,"lat":43.1,"depth":200},{"sv":6,"lat":47,"depth":228},{"sv":6,"lat":50.4,"depth":270},{"sv":6,"lat":55.9,"depth":194},{"sv":6,"lat":58.2,"depth":256},{"sv":6,"lat":61.2,"depth":242},{"sv":6,"lat":62.6,"depth":270},{"sv":6,"lat":64.7,"depth":270},{"sv":6,"lat":64.7,"depth":600},{"sv":6,"lat":64.5,"depth":830},{"sv":6,"lat":63.2,"depth":1043},{"sv":6,"lat":62.6,"depth":1492},{"sv":6,"lat":59.8,"depth":1914},{"sv":6,"lat":55.4,"depth":2110},{"sv":6,"lat":53.4,"depth":2195},{"sv":6,"lat":51.7,"depth":2363},{"sv":6,"lat":50.3,"depth":2335},{"sv":6,"lat":43.1,"depth":2532},{"sv":6,"lat":36.4,"depth":2335},{"sv":6,"lat":35,"depth":2251},{"sv":6,"lat":30.8,"depth":2195},{"sv":6,"lat":28.6,"depth":2237},{"sv":6,"lat":23.9,"depth":2209},{"sv":6,"lat":21.3,"depth":2195},{"sv":6,"lat":21.1,"depth":2504},{"sv":6,"lat":20.8,"depth":2490},{"sv":6,"lat":19.1,"depth":2335},{"sv":6,"lat":17.7,"depth":2363},{"sv":6,"lat":17.2,"depth":2223},{"sv":6,"lat":15.8,"depth":2195},{"sv":6,"lat":14.2,"depth":2110},{"sv":6,"lat":13,"depth":1984},{"sv":6,"lat":10.8,"depth":1970},{"sv":6,"lat":9.7,"depth":2110},{"sv":6,"lat":4.1,"depth":2068},{"sv":6,"lat":-0.9,"depth":2152},{"sv":6,"lat":-3.1,"depth":2152},{"sv":6,"lat":-4.7,"depth":2251},{"sv":6,"lat":-5.9,"depth":2138},{"sv":6,"lat":-8.2,"depth":2110},{"sv":6,"lat":-9,"depth":2195},{"sv":6,"lat":-16.5,"depth":2138},{"sv":6,"lat":-19.9,"depth":2152},{"sv":6,"lat":-21,"depth":2181},{"sv":6,"lat":-24.4,"depth":2223},{"sv":6,"lat":-27.7,"depth":2251},{"sv":6,"lat":-30.5,"depth":2237},{"sv":6,"lat":-34.4,"depth":2279},{"sv":6,"lat":-40,"depth":2288},
{"sv":8,"lat":-40,"depth":194},{"sv":8,"lat":-34,"depth":206},{"sv":8,"lat":-24,"depth":284},{"sv":8,"lat":-17,"depth":280},{"sv":8,"lat":-6.5,"depth":240},{"sv":8,"lat":0.2,"depth":180},{"sv":8,"lat":3,"depth":115},{"sv":8,"lat":3.1,"depth":73},{"sv":8,"lat":1.6,"depth":20},{"sv":8,"lat":4,"depth":8},{"sv":8,"lat":21,"depth":10},{"sv":8,"lat":21.4,"depth":73},{"sv":8,"lat":22,"depth":115},{"sv":8,"lat":24.7,"depth":214},{"sv":8,"lat":26.9,"depth":194},{"sv":8,"lat":30.3,"depth":242},{"sv":8,"lat":33,"depth":270},{"sv":8,"lat":35.8,"depth":255},{"sv":8,"lat":38,"depth":228},{"sv":8,"lat":43.1,"depth":214},{"sv":8,"lat":47,"depth":228},{"sv":8,"lat":51.5,"depth":340},{"sv":8,"lat":54.8,"depth":410},{"sv":8,"lat":58.2,"depth":410},{"sv":8,"lat":61,"depth":509},{"sv":8,"lat":62.9,"depth":410},{"sv":8,"lat":63.5,"depth":509},{"sv":8,"lat":63.1,"depth":850},{"sv":8,"lat":62.6,"depth":1323},{"sv":8,"lat":62.1,"depth":1549},{"sv":8,"lat":59.3,"depth":1773},{"sv":8,"lat":55.1,"depth":1829},{"sv":8,"lat":52,"depth":1998},{"sv":8,"lat":48.4,"depth":2110},{"sv":8,"lat":42,"depth":2267},{"sv":8,"lat":37.5,"depth":2138},{"sv":8,"lat":34.2,"depth":2054},{"sv":8,"lat":29.7,"depth":1956},{"sv":8,"lat":22.5,"depth":1900},{"sv":8,"lat":21.1,"depth":2000},{"sv":8,"lat":19.7,"depth":1914},{"sv":8,"lat":18,"depth":2012},{"sv":8,"lat":15.2,"depth":1900},{"sv":8,"lat":13.5,"depth":1844},{"sv":8,"lat":12.2,"depth":1801},{"sv":8,"lat":9.7,"depth":1900},{"sv":8,"lat":4.1,"depth":1872},{"sv":8,"lat":3.6,"depth":1984},{"sv":8,"lat":-0.9,"depth":1998},{"sv":8,"lat":-7.6,"depth":1942},{"sv":8,"lat":-8.7,"depth":1998},{"sv":8,"lat":-16.5,"depth":1956},{"sv":8,"lat":-19,"depth":2012},{"sv":8,"lat":-19.9,"depth":1970},{"sv":8,"lat":-21,"depth":1998},{"sv":8,"lat":-25.4,"depth":2012},{"sv":8,"lat":-34.4,"depth":2082},{"sv":8,"lat":-40,"depth":2110},
{"sv":6.01,"lat":16.7,"depth":185},{"sv":6.01,"lat":18.1,"depth":129},{"sv":6.01,"lat":19.2,"depth":129},{"sv":6.01,"lat":18.9,"depth":185},{"sv":6.01,"lat":17.3,"depth":205},
{"sv":10,"lat":-40,"depth":284},{"sv":10,"lat":-34.4,"depth":290},{"sv":10,"lat":-30,"depth":325},{"sv":10,"lat":-24.9,"depth":368},{"sv":10,"lat":-20,"depth":368},{"sv":10,"lat":-17,"depth":354},{"sv":10,"lat":-9,"depth":320},{"sv":10,"lat":-2,"depth":262},{"sv":10,"lat":0.8,"depth":205},{"sv":10,"lat":5.2,"depth":165},{"sv":10,"lat":7.2,"depth":143},{"sv":10,"lat":6.9,"depth":73},{"sv":10,"lat":5.2,"depth":25},{"sv":10,"lat":4.4,"depth":12},{"sv":10,"lat":7,"depth":8},{"sv":10,"lat":18,"depth":8},{"sv":10,"lat":18,"depth":45},{"sv":10,"lat":15.9,"depth":115},{"sv":10,"lat":14.8,"depth":214},{"sv":10,"lat":16.8,"depth":368},{"sv":10,"lat":19.5,"depth":310},{"sv":10,"lat":23.6,"depth":298},{"sv":10,"lat":26.9,"depth":357},{"sv":10,"lat":30.3,"depth":326},{"sv":10,"lat":33.9,"depth":340},{"sv":10,"lat":38.1,"depth":284},{"sv":10,"lat":41.4,"depth":287},{"sv":10,"lat":45.3,"depth":300},{"sv":10,"lat":49.2,"depth":382},{"sv":10,"lat":55.1,"depth":508},{"sv":10,"lat":55.9,"depth":410},{"sv":10,"lat":57.6,"depth":536},{"sv":10,"lat":59.3,"depth":565},{"sv":10,"lat":61.5,"depth":776},{"sv":10,"lat":62.9,"depth":776},{"sv":10,"lat":62.9,"depth":608},{"sv":10,"lat":63,"depth":900},{"sv":10,"lat":62.6,"depth":1267},{"sv":10,"lat":61.8,"depth":1323},{"sv":10,"lat":59.8,"depth":1394},{"sv":10,"lat":57.6,"depth":1548},{"sv":10,"lat":54.8,"depth":1548},{"sv":10,"lat":52.6,"depth":1717},{"sv":10,"lat":48.1,"depth":1914},{"sv":10,"lat":42,"depth":2040},{"sv":10,"lat":37.5,"depth":1900},{"sv":10,"lat":30.3,"depth":1801},{"sv":10,"lat":23.6,"depth":1801},{"sv":10,"lat":16.3,"depth":1787},{"sv":10,"lat":12,"depth":1661},{"sv":10,"lat":3.6,"depth":1759},{"sv":10,"lat":-0.9,"depth":1780},{"sv":10,"lat":-9.3,"depth":1787},{"sv":10,"lat":-15.7,"depth":1765},{"sv":10,"lat":-19.9,"depth":1801},{"sv":10,"lat":-21,"depth":1843},{"sv":10,"lat":-26,"depth":1843},{"sv":10,"lat":-32.7,"depth":1871},{"sv":10,"lat":-34.4,"depth":1914},{"sv":10,"lat":-40,"depth":1914},
{"sv":12,"lat":-40,"depth":424},{"sv":12,"lat":-34.4,"depth":424},{"sv":12,"lat":-32.1,"depth":466},{"sv":12,"lat":-23.2,"depth":486},{"sv":12,"lat":-18.7,"depth":452},{"sv":12,"lat":-6,"depth":424},{"sv":12,"lat":2.4,"depth":289},{"sv":12,"lat":7.4,"depth":284},{"sv":12,"lat":14.7,"depth":424},{"sv":12,"lat":16,"depth":502},{"sv":12,"lat":18,"depth":508},{"sv":12,"lat":23.6,"depth":438},{"sv":12,"lat":25.2,"depth":382},{"sv":12,"lat":28,"depth":424},{"sv":12,"lat":30.3,"depth":438},{"sv":12,"lat":35.6,"depth":326},{"sv":12,"lat":38.6,"depth":368},{"sv":12,"lat":44.8,"depth":368},{"sv":12,"lat":50.4,"depth":480},{"sv":12,"lat":53.7,"depth":677},{"sv":12,"lat":55.1,"depth":733},{"sv":12,"lat":55.9,"depth":635},{"sv":12,"lat":58.2,"depth":818},{"sv":12,"lat":58.5,"depth":1014},{"sv":12,"lat":56.5,"depth":1155},{"sv":12,"lat":54.9,"depth":1071},{"sv":12,"lat":52.6,"depth":1323},{"sv":12,"lat":49.8,"depth":1520},{"sv":12,"lat":45.9,"depth":1773},{"sv":12,"lat":41.4,"depth":1829},{"sv":12,"lat":37.5,"depth":1745},{"sv":12,"lat":30.3,"depth":1604},{"sv":12,"lat":23.6,"depth":1647},{"sv":12,"lat":16.4,"depth":1611},{"sv":12,"lat":11.4,"depth":1520},{"sv":12,"lat":2.4,"depth":1611},{"sv":12,"lat":-0.9,"depth":1590},{"sv":12,"lat":-6.5,"depth":1583},{"sv":12,"lat":-15.4,"depth":1572},{"sv":12,"lat":-18.3,"depth":1611},{"sv":12,"lat":-22.1,"depth":1604},{"sv":12,"lat":-27.7,"depth":1626},{"sv":12,"lat":-32.7,"depth":1633},{"sv":12,"lat":-34.4,"depth":1689},{"sv":12,"lat":-40,"depth":1689},
{"sv":14,"lat":-40,"depth":612},{"sv":14,"lat":-33.3,"depth":635},{"sv":14,"lat":-23.2,"depth":663},{"sv":14,"lat":-18.2,"depth":607},{"sv":14,"lat":-15.4,"depth":621},{"sv":14,"lat":1.2,"depth":537},{"sv":14,"lat":4,"depth":551},{"sv":14,"lat":11.9,"depth":593},{"sv":14,"lat":15.5,"depth":635},{"sv":14,"lat":19.7,"depth":593},{"sv":14,"lat":23.6,"depth":579},{"sv":14,"lat":25.2,"depth":495},{"sv":14,"lat":27.2,"depth":495},{"sv":14,"lat":28.6,"depth":565},{"sv":14,"lat":30.3,"depth":565},{"sv":14,"lat":35.6,"depth":396},{"sv":14,"lat":37.5,"depth":480},{"sv":14,"lat":43.7,"depth":410},{"sv":14,"lat":48.1,"depth":565},{"sv":14,"lat":50.6,"depth":733},{"sv":14,"lat":51.2,"depth":958},{"sv":14,"lat":49.8,"depth":1239},{"sv":14,"lat":47,"depth":1464},{"sv":14,"lat":43.7,"depth":1605},{"sv":14,"lat":40.9,"depth":1647},{"sv":14,"lat":37.5,"depth":1619},{"sv":14,"lat":30.3,"depth":1562},{"sv":14,"lat":24.1,"depth":1408},{"sv":14,"lat":19.1,"depth":1394},{"sv":14,"lat":13.5,"depth":1366},{"sv":14,"lat":11.4,"depth":1345},{"sv":14,"lat":6.3,"depth":1394},{"sv":14,"lat":2.4,"depth":1422},{"sv":14,"lat":-3.1,"depth":1358},{"sv":14,"lat":-9.8,"depth":1324},{"sv":14,"lat":-15.4,"depth":1330},{"sv":14,"lat":-18,"depth":1374},{"sv":14,"lat":-21.5,"depth":1345},{"sv":14,"lat":-27.7,"depth":1366},{"sv":14,"lat":-32.7,"depth":1394},{"sv":14,"lat":-34.6,"depth":1444},{"sv":14,"lat":-40,"depth":1444},
{"sv":16,"lat":2.4,"depth":1022},{"sv":16,"lat":4.7,"depth":1022},{"sv":16,"lat":10.5,"depth":1022},{"sv":16,"lat":10.8,"depth":986},{"sv":16,"lat":12.2,"depth":972},{"sv":16,"lat":14.7,"depth":916},{"sv":16,"lat":15.5,"depth":776},{"sv":16,"lat":17.4,"depth":790},{"sv":16,"lat":23.6,"depth":739},{"sv":16,"lat":25.2,"depth":643},{"sv":16,"lat":27.5,"depth":720},{"sv":16,"lat":31.4,"depth":597},{"sv":16,"lat":35.6,"depth":503},{"sv":16,"lat":37,"depth":601},{"sv":16,"lat":43.7,"depth":495},{"sv":16,"lat":47,"depth":677},{"sv":16,"lat":48.7,"depth":818},{"sv":16,"lat":48.7,"depth":1014},{"sv":16,"lat":46.4,"depth":1267},{"sv":16,"lat":43.7,"depth":1408},{"sv":16,"lat":40,"depth":1464},{"sv":16,"lat":35.8,"depth":1394},{"sv":16,"lat":30.3,"depth":1380},{"sv":16,"lat":27.8,"depth":1281},{"sv":16,"lat":23,"depth":1211},{"sv":16,"lat":19.1,"depth":1155},{"sv":16,"lat":15.6,"depth":1057},{"sv":16,"lat":15.2,"depth":1099},{"sv":16,"lat":14.7,"depth":1057},{"sv":16,"lat":10.8,"depth":1043},{"sv":16,"lat":10.5,"depth":1043},{"sv":16,"lat":7,"depth":1030},{"sv":16,"lat":2.4,"depth":1030},
{"sv":18,"lat":35.6,"depth":635},{"sv":18,"lat":36.7,"depth":767},{"sv":18,"lat":43.7,"depth":607},{"sv":18,"lat":45.3,"depth":818},{"sv":18,"lat":45.3,"depth":1014},{"sv":18,"lat":43.7,"depth":1155},{"sv":18,"lat":41.4,"depth":1267},{"sv":18,"lat":38.1,"depth":1211},{"sv":18,"lat":35.3,"depth":1140},{"sv":18,"lat":32.2,"depth":1099},{"sv":18,"lat":31,"depth":1029},{"sv":18,"lat":32.2,"depth":902},{"sv":18,"lat":34.7,"depth":663},
{"sv":12.01,"lat":11.1,"depth":50},{"sv":12.01,"lat":13,"depth":37},{"sv":12.01,"lat":16,"depth":37},{"sv":12.01,"lat":16.4,"depth":50},{"sv":12.01,"lat":14,"depth":87},{"sv":12.01,"lat":12,"depth":80},
{"sv":12.02,"lat":18.6,"depth":37},{"sv":12.02,"lat":21,"depth":37},{"sv":12.02,"lat":21,"depth":70},{"sv":12.02,"lat":18.6,"depth":70},
{"sv":-2.02,"lat":-16.6,"depth":8},{"sv":-2.02,"lat":-16,"depth":73},{"sv":-2.02,"lat":-14.4,"depth":128},{"sv":-2.02,"lat":-8.8,"depth":149},{"sv":-2.02,"lat":-1,"depth":138},{"sv":-2.02,"lat":1.3,"depth":86},{"sv":-2.02,"lat":0.7,"depth":17},
{"sv":-4.02,"lat":-15.7,"depth":17},{"sv":-4.02,"lat":-15.2,"depth":81},{"sv":-4.02,"lat":-13.2,"depth":110},{"sv":-4.02,"lat":-1,"depth":110},{"sv":-4.02,"lat":0.7,"depth":73},{"sv":-4.02,"lat":0.2,"depth":17},
{"sv":-6.05,"lat":-14.9,"depth":31},{"sv":-6.05,"lat":-14.4,"depth":73},{"sv":-6.05,"lat":-6.5,"depth":81},{"sv":-6.05,"lat":-4.9,"depth":65},{"sv":-6.05,"lat":-2.1,"depth":87},{"sv":-6.05,"lat":0.2,"depth":59},{"sv":-6.05,"lat":-1,"depth":17},
{"sv":-8.01,"lat":-14.9,"depth":45},{"sv":-8.01,"lat":-5.2,"depth":65},{"sv":-8.01,"lat":-5.2,"depth":45},{"sv":-8.01,"lat":-12,"depth":31},
{"sv":-11,"lat":-13,"depth":0},{"sv":-11,"lat":0,"depth":0},{"sv":-11,"lat":0,"depth":12},{"sv":-11,"lat":-13,"depth":12},
{"sv":-11.01,"lat":5,"depth":0},{"sv":-11.01,"lat":21,"depth":0},{"sv":-11.01,"lat":21,"depth":10},{"sv":-11.01,"lat":5,"depth":10}
],
"colorbar":[{"lo":-11,"hi":-10.47,"sv":-10.73},{"lo":-10.47,"hi":-9.94,"sv":-10.2},{"lo":-9.94,"hi":-9.41,"sv":-9.67},{"lo":-9.41,"hi":-8.88,"sv":-9.14},{"lo":-8.88,"hi":-8.34,"sv":-8.61},{"lo":-8.34,"hi":-7.81,"sv":-8.08},{"lo":-7.81,"hi":-7.28,"sv":-7.55},{"lo":-7.28,"hi":-6.75,"sv":-7.02},{"lo":-6.75,"hi":-6.22,"sv":-6.48},{"lo":-6.22,"hi":-5.69,"sv":-5.95},{"lo":-5.69,"hi":-5.16,"sv":-5.42},{"lo":-5.16,"hi":-4.63,"sv":-4.89},{"lo":-4.63,"hi":-4.09,"sv":-4.36},{"lo":-4.09,"hi":-3.56,"sv":-3.83},{"lo":-3.56,"hi":-3.03,"sv":-3.3},{"lo":-3.03,"hi":-2.5,"sv":-2.77},{"lo":-2.5,"hi":-1.97,"sv":-2.23},{"lo":-1.97,"hi":-1.44,"sv":-1.7},{"lo":-1.44,"hi":-0.91,"sv":-1.17},{"lo":-0.91,"hi":-0.38,"sv":-0.64},{"lo":-0.38,"hi":0.16,"sv":-0.11},{"lo":0.16,"hi":0.69,"sv":0.42},{"lo":0.69,"hi":1.22,"sv":0.95},{"lo":1.22,"hi":1.75,"sv":1.48},{"lo":1.75,"hi":2.28,"sv":2.02},{"lo":2.28,"hi":2.81,"sv":2.55},{"lo":2.81,"hi":3.34,"sv":3.08},{"lo":3.34,"hi":3.88,"sv":3.61},{"lo":3.88,"hi":4.41,"sv":4.14},{"lo":4.41,"hi":4.94,"sv":4.67},{"lo":4.94,"hi":5.47,"sv":5.2},{"lo":5.47,"hi":6,"sv":5.73},{"lo":6,"hi":6.53,"sv":6.27},{"lo":6.53,"hi":7.06,"sv":6.8},{"lo":7.06,"hi":7.59,"sv":7.33},{"lo":7.59,"hi":8.13,"sv":7.86},{"lo":8.13,"hi":8.66,"sv":8.39},{"lo":8.66,"hi":9.19,"sv":8.92},{"lo":9.19,"hi":9.72,"sv":9.45},{"lo":9.72,"hi":10.25,"sv":9.98},{"lo":10.25,"hi":10.78,"sv":10.52},{"lo":10.78,"hi":11.31,"sv":11.05},{"lo":11.31,"hi":11.84,"sv":11.58},{"lo":11.84,"hi":12.38,"sv":12.11},{"lo":12.38,"hi":12.91,"sv":12.64},{"lo":12.91,"hi":13.44,"sv":13.17},{"lo":13.44,"hi":13.97,"sv":13.7},{"lo":13.97,"hi":14.5,"sv":14.23},{"lo":14.5,"hi":15.03,"sv":14.77},{"lo":15.03,"hi":15.56,"sv":15.3},{"lo":15.56,"hi":16.09,"sv":15.83},{"lo":16.09,"hi":16.63,"sv":16.36},{"lo":16.63,"hi":17.16,"sv":16.89},{"lo":17.16,"hi":17.69,"sv":17.42},{"lo":17.69,"hi":18.22,"sv":17.95},{"lo":18.22,"hi":18.75,"sv":18.48},{"lo":18.75,"hi":19.28,"sv":19.02},{"lo":19.28,"hi":19.81,"sv":19.55},{"lo":19.81,"hi":20.34,"sv":20.08},{"lo":20.34,"hi":20.88,"sv":20.61},{"lo":20.88,"hi":21.41,"sv":21.14},{"lo":21.41,"hi":21.94,"sv":21.67},{"lo":21.94,"hi":22.47,"sv":22.2},{"lo":22.47,"hi":23,"sv":22.73}],
"logotext":[{"ch":"O","x":23.64,"y":-1.172,"rot":-50},{"ch":"L","x":24.01,"y":-0.988,"rot":-47},{"ch":"E","x":24.37,"y":-0.805,"rot":-43},{"ch":"O","x":24.82,"y":-0.471,"rot":-38},{"ch":"C","x":25.33,"y":-0.299,"rot":-33},{"ch":"E","x":25.79,"y":-0.155,"rot":-27},{"ch":"A","x":26.21,"y":-0.04,"rot":-22},{"ch":"N","x":26.82,"y":0.103,"rot":-14},{"ch":"O","x":27.47,"y":0.172,"rot":-5},{"ch":"G","x":28.07,"y":0.126,"rot":3},{"ch":"R","x":28.63,"y":0.046,"rot":11},{"ch":"A","x":29.14,"y":-0.069,"rot":18},{"ch":"P","x":29.7,"y":-0.241,"rot":26},{"ch":"H","x":30.21,"y":-0.443,"rot":33},{"ch":"I","x":30.54,"y":-0.586,"rot":38},{"ch":"C","x":30.77,"y":-0.759,"rot":42}],
"logolines":[{"x":27,"y":-1.33},{"x":27.84,"y":-0.012},{"x":28.49,"y":-1.33},{"x":27.84,"y":-0.012},{"x":27.95,"y":-1.33}],
"logosail":[{"x":27.33,"y":-1.33},{"x":27.65,"y":-0.644},{"x":27.75,"y":-0.529},{"x":27.75,"y":-1.33}]
},
"bounds":"flush","spacing":645,
"vconcat":[
{"bounds":"flush","spacing":143,"hconcat":[
{"width":777,"height":593,"resolve":{"axis":{"x":"independent","y":"independent"}},
"layer":[
{"data":{"name":"frame"},"mark":{"type":"rect","fill":"#0a2672","clip":false},"encoding":{"x":{"datum":-56.73,"scale":{"domain":[-40,90],"nice":false,"zero":false},"axis":null},"x2":{"datum":91.2},"y":{"datum":-696,"scale":{"domain":[0,5000],"reverse":true,"nice":false,"zero":false},"axis":null},"y2":{"datum":5354}}},
{"data":{"name":"frame"},"mark":{"type":"rect","fill":"#ffffff","clip":false},"encoding":{"x":{"datum":-54.9,"axis":null},"x2":{"datum":91.17},"y":{"datum":-649,"axis":null},"y2":{"datum":5354}}},
{"data":{"name":"frame"},"mark":{"type":"text","font":"Liberation Serif","fontSize":41,"fill":"#000","baseline":"alphabetic","align":"center","clip":false},"encoding":{"x":{"datum":25,"axis":null},"y":{"datum":-295,"axis":null},"text":{"value":"1° model\u00a0 −\u00a0 Standard Vertical Mixing"}}},
{"data":{"name":"standard"},"mark":{"type":"line","clip":true,"stroke":"#111","strokeWidth":1,"strokeJoin":"round","interpolate":"linear-closed"},"encoding":{"x":{"field":"lat","type":"quantitative","axis":{"values":[-40,-20,0,20,40,60,80],"labelPadding":17,"zindex":1}},"y":{"field":"depth","type":"quantitative","axis":{"values":[0,1000,2000,3000,4000,5000],"labelPadding":16,"zindex":1}},"detail":{"field":"sv","type":"nominal"},"order":{"value":null},"fill":{"field":"sv","type":"quantitative","legend":null,"scale":{"type":"linear","domain":[-11,-10,-8,-7,-6,-5,-4,-2,0,2,4,5,6,8,10,12,14,15,16,18,20,22,23],"range":["#1f0090","#1e0096","#2f00b8","#3319c0","#3535cc","#3a55d8","#3580e6","#3ca8ea","#4cc3ea","#5edfe6","#7eedd0","#b0ebb0","#e0e8a4","#e6cc96","#ecab82","#f08062","#f45243","#f02a30","#ee0a24","#d4000e","#b00000","#800000","#7a0000"],"interpolate":"rgb"}}}},
{"data":{"name":"ground"},"mark":{"type":"line","clip":true,"fill":"#ffffff","stroke":"#333","strokeWidth":1,"interpolate":"linear-closed"},"encoding":{"x":{"field":"lat","type":"quantitative","axis":null},"y":{"field":"depth","type":"quantitative","axis":null},"detail":{"field":"piece","type":"nominal"},"order":{"value":null}}},
{"data":{"values":[{"lat":0,"depth":0}]},"mark":{"type":"rule","opacity":0},"encoding":{"x":{"field":"lat","type":"quantitative","axis":{"orient":"top","labels":false,"values":[-40,-20,0,20,40,60,80],"zindex":1}},"y":{"field":"depth","type":"quantitative","axis":{"orient":"right","labels":false,"values":[0,1000,2000,3000,4000,5000],"zindex":1}}}}
]},
{"width":777,"height":593,"resolve":{"axis":{"x":"independent","y":"independent"}},
"layer":[
{"data":{"name":"frame"},"mark":{"type":"rect","fill":"#0a2672","clip":false},"encoding":{"x":{"datum":-62.75,"scale":{"domain":[-40,90],"nice":false,"zero":false},"axis":null},"x2":{"datum":91},"y":{"datum":-696,"scale":{"domain":[0,5000],"reverse":true,"nice":false,"zero":false},"axis":null},"y2":{"datum":5354}}},
{"data":{"name":"frame"},"mark":{"type":"rect","fill":"#ffffff","clip":false},"encoding":{"x":{"datum":-54.9,"axis":null},"x2":{"datum":91},"y":{"datum":-649,"axis":null},"y2":{"datum":5354}}},
{"data":{"name":"frame"},"mark":{"type":"text","font":"Liberation Serif","fontSize":41,"fill":"#000","baseline":"alphabetic","align":"center","clip":false},"encoding":{"x":{"datum":25,"axis":null},"y":{"datum":-295,"axis":null},"text":{"value":"1° model\u00a0 −\u00a0 Tidal Mixing"}}},
{"data":{"name":"tidal"},"mark":{"type":"line","clip":true,"stroke":"#111","strokeWidth":1,"strokeJoin":"round","interpolate":"linear-closed"},"encoding":{"x":{"field":"lat","type":"quantitative","axis":{"values":[-40,-20,0,20,40,60,80],"labelPadding":17,"zindex":1}},"y":{"field":"depth","type":"quantitative","axis":{"values":[0,1000,2000,3000,4000,5000],"labelPadding":16,"zindex":1}},"detail":{"field":"sv","type":"nominal"},"order":{"value":null},"fill":{"field":"sv","type":"quantitative","legend":null,"scale":{"type":"linear","domain":[-11,-10,-8,-7,-6,-5,-4,-2,0,2,4,5,6,8,10,12,14,15,16,18,20,22,23],"range":["#1f0090","#1e0096","#2f00b8","#3319c0","#3535cc","#3a55d8","#3580e6","#3ca8ea","#4cc3ea","#5edfe6","#7eedd0","#b0ebb0","#e0e8a4","#e6cc96","#ecab82","#f08062","#f45243","#f02a30","#ee0a24","#d4000e","#b00000","#800000","#7a0000"],"interpolate":"rgb"}}}},
{"data":{"name":"ground"},"mark":{"type":"line","clip":true,"fill":"#ffffff","stroke":"#333","strokeWidth":1,"interpolate":"linear-closed"},"encoding":{"x":{"field":"lat","type":"quantitative","axis":null},"y":{"field":"depth","type":"quantitative","axis":null},"detail":{"field":"piece","type":"nominal"},"order":{"value":null}}},
{"data":{"values":[{"lat":0,"depth":0}]},"mark":{"type":"rule","opacity":0},"encoding":{"x":{"field":"lat","type":"quantitative","axis":{"orient":"top","labels":false,"values":[-40,-20,0,20,40,60,80],"zindex":1}},"y":{"field":"depth","type":"quantitative","axis":{"orient":"right","labels":false,"values":[0,1000,2000,3000,4000,5000],"zindex":1}}}}
]}
]},
{"width":1416,"height":58,
"layer":[
{"data":{"name":"frame"},"mark":{"type":"rect","fill":"#0a2672","clip":false},"encoding":{"x":{"datum":-19.3,"scale":{"domain":[-16.52,23],"nice":false,"zero":false},"axis":{"values":[-10,-5,0,5,10,15,20],"domain":false,"tickSize":0,"labelFontSize":31,"labelPadding":10,"title":"Transport [Sv]","titleFont":"Liberation Serif","titleFontSize":32,"titleFontWeight":"normal","titleColor":"#000","titlePadding":4,"titleX":807,"zindex":1}},"x2":{"datum":31},"y":{"datum":1.172,"scale":{"domain":[0,1],"nice":false,"zero":false},"axis":null},"y2":{"datum":-1.33}}},
{"data":{"name":"frame"},"mark":{"type":"rect","fill":"#ffffff","clip":false},"encoding":{"x":{"datum":-11.19},"x2":{"datum":23.24},"y":{"datum":1.172},"y2":{"datum":-1.33}}},
{"data":{"name":"colorbar"},"mark":{"type":"rect","clip":false,"strokeWidth":0.7},"encoding":{"x":{"field":"lo","type":"quantitative"},"x2":{"field":"hi"},"y":{"datum":0},"y2":{"datum":1},"fill":{"field":"sv","type":"quantitative","legend":null},"stroke":{"field":"sv","type":"quantitative","legend":null,"scale":{"type":"linear","domain":[-11,-10,-8,-7,-6,-5,-4,-2,0,2,4,5,6,8,10,12,14,15,16,18,20,22,23],"range":["#1f0090","#1e0096","#2f00b8","#3319c0","#3535cc","#3a55d8","#3580e6","#3ca8ea","#4cc3ea","#5edfe6","#7eedd0","#b0ebb0","#e0e8a4","#e6cc96","#ecab82","#f08062","#f45243","#f02a30","#ee0a24","#d4000e","#b00000","#800000","#7a0000"],"interpolate":"rgb"}}}},
{"data":{"name":"frame"},"mark":{"type":"rect","fill":null,"stroke":"#111","strokeWidth":1.5,"clip":false},"encoding":{"x":{"datum":-11},"x2":{"datum":23},"y":{"datum":0},"y2":{"datum":1}}},
{"data":{"values":[{"sv":-10},{"sv":-5},{"sv":0},{"sv":5},{"sv":10},{"sv":15},{"sv":20}]},"layer":[
{"mark":{"type":"rule","stroke":"#222"},"encoding":{"x":{"field":"sv","type":"quantitative"},"y":{"datum":0},"y2":{"datum":0.2}}},
{"mark":{"type":"rule","stroke":"#222"},"encoding":{"x":{"field":"sv","type":"quantitative"},"y":{"datum":0.8},"y2":{"datum":1}}}
]},
{"data":{"name":"logolines"},"mark":{"type":"line","stroke":"#ffffff","strokeWidth":1,"clip":false},"encoding":{"x":{"field":"x","type":"quantitative"},"y":{"field":"y","type":"quantitative"},"order":{"value":null}}},
{"data":{"name":"logosail"},"mark":{"type":"line","stroke":"#ffffff","strokeWidth":1,"fill":"#ffffff","clip":false},"encoding":{"x":{"field":"x","type":"quantitative"},"y":{"field":"y","type":"quantitative"},"order":{"value":null}}},
{"data":{"name":"logotext"},"mark":{"type":"text","font":"Liberation Sans","fontSize":22,"fill":"#ffffff","baseline":"middle","clip":false},"encoding":{"x":{"field":"x","type":"quantitative"},"y":{"field":"y","type":"quantitative"},"text":{"field":"ch"},"angle":{"field":"rot","type":"quantitative","scale":null}}}
]}
]
}
